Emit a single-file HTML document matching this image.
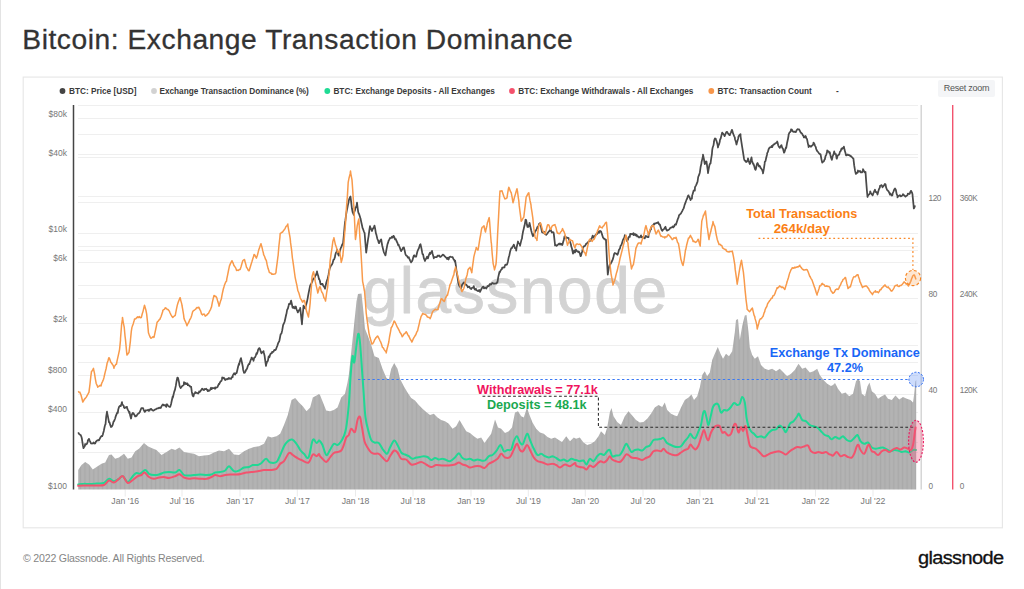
<!DOCTYPE html>
<html lang="en"><head><meta charset="utf-8"><title>Bitcoin: Exchange Transaction Dominance</title>
<style>
html,body{margin:0;padding:0;background:#fff;}
body{width:1024px;height:589px;position:relative;overflow:hidden;font-family:"Liberation Sans",Arial,sans-serif;}
.edge{position:absolute;left:0;top:0;width:1px;height:589px;background:#e3e3e3;}
h1{position:absolute;left:22.3px;top:24.1px;margin:0;font-weight:400;font-size:28.2px;line-height:30px;letter-spacing:0.55px;color:#333;white-space:nowrap;-webkit-text-stroke:0.3px #333;}
.legend span{position:absolute;top:85.8px;height:12px;line-height:12px;font-size:8.25px;font-weight:700;letter-spacing:0;color:#3a3a3a;white-space:nowrap;}
.legend i{position:absolute;top:88.4px;width:5.4px;height:5.4px;border-radius:50%;}
.reset{position:absolute;left:938px;top:80px;width:57px;height:17px;background:#f4f5f7;border-radius:2px;font-size:9px;line-height:17px;color:#555;text-align:center;letter-spacing:-0.25px;}
.foot{position:absolute;left:23px;top:551px;font-size:10.6px;line-height:14px;letter-spacing:-0.2px;color:#858585;white-space:nowrap;}
.logo{position:absolute;left:918px;top:546.6px;font-size:18.7px;line-height:22px;letter-spacing:-0.6px;transform:scaleX(1.07);transform-origin:0 0;color:#111;white-space:nowrap;-webkit-text-stroke:0.3px #111;}
svg{position:absolute;left:0;top:0;}
svg text{font-family:"Liberation Sans",Arial,sans-serif;}
</style></head><body>
<div class="edge"></div>
<h1>Bitcoin: Exchange Transaction Dominance</h1>
<div class="legend">
<span style="left:69px">BTC: Price [USD]</span>
<span style="left:159.4px">Exchange Transaction Dominance (%)</span>
<span style="left:333.4px">BTC: Exchange Deposits - All Exchanges</span>
<span style="left:518.2px">BTC: Exchange Withdrawals - All Exchanges</span>
<span style="left:717.4px">BTC: Transaction Count</span>
<span style="left:836px">-</span>
</div>
<div class="reset">Reset zoom</div>
<svg width="1024" height="589" viewBox="0 0 1024 589">
<rect x="23.2" y="77.1" width="979.2" height="450.7" fill="none" stroke="#e7e7e7" stroke-width="1.15"/>
<g stroke="#efefef" stroke-width="1" fill="none" shape-rendering="crispEdges"><path d="M78.3,105H917.5"/><path d="M78.3,118H917.5"/><path d="M78.3,134H917.5"/><path d="M78.3,154H917.5"/><path d="M78.3,157H917.5"/><path d="M78.3,196H917.5"/><path d="M78.3,202.5H917.5"/><path d="M78.3,233H917.5"/><path d="M78.3,246H917.5"/><path d="M78.3,250H917.5"/><path d="M78.3,262.5H917.5"/><path d="M78.3,285H917.5"/><path d="M78.3,298H917.5"/><path d="M78.3,323H917.5"/><path d="M78.3,345.2H917.5"/><path d="M78.3,362.5H917.5"/><path d="M78.3,375H917.5"/><path d="M78.3,394.5H917.5"/><path d="M78.3,412.5H917.5"/><path d="M78.3,442H917.5"/><path d="M78.3,452.5H917.5"/></g>
<g stroke="#ebebeb" stroke-width="1" fill="none"><path d="M125.2,489.5V496.5"/><path d="M182,489.5V496.5"/><path d="M240,489.5V496.5"/><path d="M297.3,489.5V496.5"/><path d="M355.5,489.5V496.5"/><path d="M413,489.5V496.5"/><path d="M471,489.5V496.5"/><path d="M528.3,489.5V496.5"/><path d="M585.3,489.5V496.5"/><path d="M643,489.5V496.5"/><path d="M700,489.5V496.5"/><path d="M757,489.5V496.5"/><path d="M815.5,489.5V496.5"/><path d="M873,489.5V496.5"/></g>
<text x="362.5" y="313" font-size="64" letter-spacing="1.6" fill="#d3d3d3" stroke="#d3d3d3" stroke-width="0.8" stroke-linejoin="round" font-weight="400">glassnode</text>
<defs><pattern id="stripe" x="78.3" y="0" width="4.42" height="10" patternUnits="userSpaceOnUse"><rect x="1.6" y="0" width="1.3" height="10" fill="#000" fill-opacity="0.055"/></pattern></defs><path d="M78.2,489.5L78.2,470.0L81.5,465.0L85.2,462.0L89.0,464.5L92.8,469.5L96.5,467.0L101.5,463.8L105.2,462.5L109.0,455.0L111.5,454.5L115.2,458.8L119.0,457.5L124.0,453.8L127.8,458.8L131.5,457.5L135.2,451.2L139.0,448.8L144.0,443.0L147.8,446.2L151.5,448.0L156.5,450.0L161.5,455.0L166.5,452.0L171.5,448.8L175.2,450.0L179.5,447.5L184.0,452.0L189.0,453.0L194.0,453.8L199.0,456.2L204.0,455.5L209.0,455.0L214.0,452.5L219.0,450.5L224.0,451.2L229.0,448.8L234.0,454.5L239.0,455.0L244.0,451.2L249.0,448.8L254.0,447.0L259.0,446.2L264.0,443.8L267.8,436.2L271.5,437.5L276.5,436.2L280.2,433.8L284.0,425.0L287.8,415.0L291.5,400.0L295.2,398.0L299.0,402.5L302.8,406.2L306.5,411.2L310.2,407.5L312.8,397.5L316.5,395.5L319.0,394.0L320.0,395.0L322.5,401.2L326.2,410.5L330.0,411.2L333.8,410.0L337.5,407.5L341.2,397.5L345.0,393.8L347.5,382.5L348.8,375.0L351.2,352.5L353.8,327.5L356.5,301.2L358.0,294.0L361.5,293.5L363.0,307.5L365.0,328.8L368.0,336.2L371.2,345.0L374.5,356.2L378.8,358.0L382.5,368.8L386.2,377.5L388.8,380.0L391.2,368.8L394.2,363.0L397.5,368.8L400.0,378.8L403.8,386.2L407.5,392.5L411.2,398.0L415.0,400.5L418.8,405.0L422.5,408.8L426.2,412.0L430.0,415.0L433.8,413.8L437.5,417.5L441.2,420.0L445.0,421.2L448.8,423.8L452.5,428.8L456.2,426.2L459.5,420.0L462.5,425.0L466.2,431.2L470.0,433.0L473.8,436.2L477.5,438.8L481.2,437.5L484.5,443.0L487.5,438.8L491.2,433.8L495.0,419.5L498.0,427.5L501.2,428.8L505.0,433.0L508.8,431.2L512.0,427.5L515.0,412.5L518.0,411.2L521.2,416.2L523.8,417.5L527.0,407.5L529.5,415.0L532.5,422.5L536.2,428.8L540.0,432.5L543.8,433.8L547.5,437.0L551.2,438.8L555.0,437.5L558.8,440.0L562.0,442.0L566.2,436.2L570.0,441.2L573.8,437.5L576.0,438.8L579.8,437.5L583.5,442.5L587.2,445.0L591.0,443.8L594.8,441.2L598.5,436.2L601.0,431.2L604.8,435.0L607.2,427.5L609.8,412.5L611.5,408.0L613.5,416.2L617.2,422.0L621.0,425.0L624.8,416.2L628.5,411.2L632.2,415.5L636.0,420.0L639.8,422.5L643.5,422.0L647.2,418.8L651.0,413.8L654.8,407.5L658.5,405.0L662.2,407.0L664.8,402.5L667.2,410.0L671.0,413.8L674.8,415.5L677.2,416.2L681.0,407.5L684.8,400.0L688.5,397.5L691.5,394.5L694.0,400.0L697.2,396.2L699.8,387.5L702.2,375.0L704.8,371.2L707.2,376.2L709.8,372.5L712.2,360.0L714.8,353.8L717.8,347.0L720.5,353.8L723.0,358.8L726.0,353.8L729.0,356.2L732.2,351.2L734.8,332.5L736.0,320.0L738.0,319.0L739.8,340.0L742.2,326.0L744.8,315.5L746.5,315.0L748.5,332.0L749.8,347.5L752.2,355.0L754.8,358.8L758.0,356.2L761.0,365.0L764.8,368.8L768.5,370.0L772.2,368.8L776.0,371.2L779.8,368.8L783.5,372.5L787.2,376.2L791.0,373.8L794.8,370.0L798.5,363.8L802.2,368.8L805.5,367.5L809.8,372.5L813.5,371.2L817.2,368.8L819.8,375.0L823.5,380.0L827.2,383.8L831.0,386.0L833.0,385.0L835.0,383.0L838.0,388.8L841.8,393.8L845.5,392.5L849.2,396.2L853.0,393.8L856.0,381.2L858.0,378.8L860.0,381.2L861.8,393.8L865.0,396.2L867.5,386.2L869.5,382.5L871.8,391.2L875.0,393.8L878.0,398.8L881.8,396.2L885.0,394.5L888.0,398.8L891.8,400.0L895.5,395.5L899.2,399.5L903.0,397.0L906.8,398.8L910.5,400.0L913.0,402.5L914.2,393.8L915.5,381.2L916.2,380.0L916.2,489.5Z" fill="#b3b3b3"/><path d="M78.2,489.5L78.2,470.0L81.5,465.0L85.2,462.0L89.0,464.5L92.8,469.5L96.5,467.0L101.5,463.8L105.2,462.5L109.0,455.0L111.5,454.5L115.2,458.8L119.0,457.5L124.0,453.8L127.8,458.8L131.5,457.5L135.2,451.2L139.0,448.8L144.0,443.0L147.8,446.2L151.5,448.0L156.5,450.0L161.5,455.0L166.5,452.0L171.5,448.8L175.2,450.0L179.5,447.5L184.0,452.0L189.0,453.0L194.0,453.8L199.0,456.2L204.0,455.5L209.0,455.0L214.0,452.5L219.0,450.5L224.0,451.2L229.0,448.8L234.0,454.5L239.0,455.0L244.0,451.2L249.0,448.8L254.0,447.0L259.0,446.2L264.0,443.8L267.8,436.2L271.5,437.5L276.5,436.2L280.2,433.8L284.0,425.0L287.8,415.0L291.5,400.0L295.2,398.0L299.0,402.5L302.8,406.2L306.5,411.2L310.2,407.5L312.8,397.5L316.5,395.5L319.0,394.0L320.0,395.0L322.5,401.2L326.2,410.5L330.0,411.2L333.8,410.0L337.5,407.5L341.2,397.5L345.0,393.8L347.5,382.5L348.8,375.0L351.2,352.5L353.8,327.5L356.5,301.2L358.0,294.0L361.5,293.5L363.0,307.5L365.0,328.8L368.0,336.2L371.2,345.0L374.5,356.2L378.8,358.0L382.5,368.8L386.2,377.5L388.8,380.0L391.2,368.8L394.2,363.0L397.5,368.8L400.0,378.8L403.8,386.2L407.5,392.5L411.2,398.0L415.0,400.5L418.8,405.0L422.5,408.8L426.2,412.0L430.0,415.0L433.8,413.8L437.5,417.5L441.2,420.0L445.0,421.2L448.8,423.8L452.5,428.8L456.2,426.2L459.5,420.0L462.5,425.0L466.2,431.2L470.0,433.0L473.8,436.2L477.5,438.8L481.2,437.5L484.5,443.0L487.5,438.8L491.2,433.8L495.0,419.5L498.0,427.5L501.2,428.8L505.0,433.0L508.8,431.2L512.0,427.5L515.0,412.5L518.0,411.2L521.2,416.2L523.8,417.5L527.0,407.5L529.5,415.0L532.5,422.5L536.2,428.8L540.0,432.5L543.8,433.8L547.5,437.0L551.2,438.8L555.0,437.5L558.8,440.0L562.0,442.0L566.2,436.2L570.0,441.2L573.8,437.5L576.0,438.8L579.8,437.5L583.5,442.5L587.2,445.0L591.0,443.8L594.8,441.2L598.5,436.2L601.0,431.2L604.8,435.0L607.2,427.5L609.8,412.5L611.5,408.0L613.5,416.2L617.2,422.0L621.0,425.0L624.8,416.2L628.5,411.2L632.2,415.5L636.0,420.0L639.8,422.5L643.5,422.0L647.2,418.8L651.0,413.8L654.8,407.5L658.5,405.0L662.2,407.0L664.8,402.5L667.2,410.0L671.0,413.8L674.8,415.5L677.2,416.2L681.0,407.5L684.8,400.0L688.5,397.5L691.5,394.5L694.0,400.0L697.2,396.2L699.8,387.5L702.2,375.0L704.8,371.2L707.2,376.2L709.8,372.5L712.2,360.0L714.8,353.8L717.8,347.0L720.5,353.8L723.0,358.8L726.0,353.8L729.0,356.2L732.2,351.2L734.8,332.5L736.0,320.0L738.0,319.0L739.8,340.0L742.2,326.0L744.8,315.5L746.5,315.0L748.5,332.0L749.8,347.5L752.2,355.0L754.8,358.8L758.0,356.2L761.0,365.0L764.8,368.8L768.5,370.0L772.2,368.8L776.0,371.2L779.8,368.8L783.5,372.5L787.2,376.2L791.0,373.8L794.8,370.0L798.5,363.8L802.2,368.8L805.5,367.5L809.8,372.5L813.5,371.2L817.2,368.8L819.8,375.0L823.5,380.0L827.2,383.8L831.0,386.0L833.0,385.0L835.0,383.0L838.0,388.8L841.8,393.8L845.5,392.5L849.2,396.2L853.0,393.8L856.0,381.2L858.0,378.8L860.0,381.2L861.8,393.8L865.0,396.2L867.5,386.2L869.5,382.5L871.8,391.2L875.0,393.8L878.0,398.8L881.8,396.2L885.0,394.5L888.0,398.8L891.8,400.0L895.5,395.5L899.2,399.5L903.0,397.0L906.8,398.8L910.5,400.0L913.0,402.5L914.2,393.8L915.5,381.2L916.2,380.0L916.2,489.5Z" fill="url(#stripe)"/>
<path d="M78.2,432.3 L79.0,433.8 L79.8,434.5 L80.2,434.8 L80.7,435.1 L81.5,437.0 L82.0,439.3 L82.2,440.8 L83.0,445.9 L83.5,448.2 L83.8,447.6 L84.7,446.3 L85.2,444.0 L85.5,444.9 L86.2,444.4 L87.0,443.8 L87.8,441.5 L87.8,440.5 L88.7,439.2 L89.0,438.9 L89.5,440.3 L90.2,441.7 L91.0,443.4 L91.5,443.4 L91.8,443.6 L92.7,443.5 L93.5,442.5 L94.2,443.6 L95.0,443.1 L95.2,443.4 L95.8,441.9 L96.7,440.8 L97.5,440.4 L98.2,440.1 L99.0,440.3 L99.0,440.3 L99.8,438.7 L100.7,437.0 L101.5,436.0 L102.2,436.2 L102.8,434.7 L103.0,433.8 L103.8,430.9 L104.7,426.5 L105.2,424.6 L105.5,424.3 L106.2,416.7 L107.0,411.7 L107.0,412.3 L107.8,415.9 L108.7,420.7 L109.0,422.4 L109.5,422.2 L110.2,424.9 L111.0,426.8 L111.0,427.1 L111.8,426.6 L112.7,424.9 L112.8,424.4 L113.5,421.7 L114.2,420.9 L115.0,418.8 L115.2,418.2 L115.8,416.1 L116.7,413.9 L117.5,412.2 L117.8,412.9 L118.2,409.8 L119.0,407.1 L119.8,405.9 L120.2,406.2 L120.7,406.1 L121.5,403.8 L122.0,402.1 L122.2,404.0 L123.0,405.1 L123.8,406.0 L124.0,407.6 L124.7,408.1 L125.5,407.4 L126.2,407.0 L127.0,406.8 L127.0,407.8 L127.8,409.6 L128.7,411.3 L129.4,413.3 L129.5,411.8 L130.2,415.6 L131.0,418.5 L131.1,418.3 L131.8,414.7 L132.7,413.0 L132.8,413.9 L133.4,413.2 L134.2,414.5 L135.1,416.4 L135.2,415.5 L135.8,416.4 L136.7,415.7 L137.4,414.3 L138.2,413.6 L139.0,413.2 L139.1,412.8 L139.8,412.1 L140.7,409.8 L141.4,408.1 L142.0,408.1 L142.2,408.1 L143.1,408.2 L143.8,410.1 L144.7,411.9 L145.2,411.6 L145.4,410.3 L146.2,410.4 L147.1,410.3 L147.8,410.0 L148.7,410.9 L149.0,409.7 L149.4,410.7 L150.2,409.3 L151.1,408.9 L151.8,409.8 L152.7,410.5 L153.4,410.6 L154.0,410.3 L154.2,409.9 L155.1,409.4 L155.8,409.4 L156.7,408.6 L157.4,408.4 L158.2,408.4 L159.0,407.8 L159.1,408.2 L159.8,407.6 L160.7,408.0 L161.4,406.7 L162.2,405.2 L162.8,404.4 L163.1,404.5 L163.8,405.4 L164.7,405.1 L165.4,405.5 L166.2,406.9 L166.5,404.4 L167.1,404.3 L167.8,405.5 L168.7,406.4 L169.4,406.9 L170.2,406.8 L171.1,403.9 L171.8,400.5 L172.7,396.5 L172.8,397.9 L173.4,395.3 L174.2,391.9 L175.1,389.4 L175.2,388.6 L175.8,385.9 L176.7,380.4 L177.4,377.5 L177.8,377.5 L178.2,378.8 L179.1,382.6 L179.5,385.5 L179.8,386.3 L180.7,388.0 L181.4,386.9 L181.5,387.0 L182.2,385.9 L183.1,385.4 L183.8,384.9 L184.0,382.2 L184.7,383.9 L185.4,383.0 L186.2,384.2 L187.1,383.3 L187.8,384.1 L187.8,385.2 L188.7,385.2 L189.4,385.7 L190.2,386.6 L191.0,386.7 L191.1,386.7 L191.8,391.7 L192.7,395.9 L192.8,395.5 L193.4,396.4 L194.2,393.5 L195.1,393.1 L195.2,392.2 L195.8,392.4 L196.7,393.0 L197.4,393.1 L198.2,393.5 L199.0,392.2 L199.1,391.5 L199.8,392.0 L200.7,390.7 L201.4,389.7 L202.2,388.6 L203.1,389.7 L203.8,389.5 L204.0,390.1 L204.7,389.0 L205.4,389.2 L206.2,388.7 L207.1,389.9 L207.8,391.2 L207.8,389.9 L208.7,390.8 L209.4,390.7 L210.2,389.7 L211.1,387.7 L211.5,389.2 L211.8,388.8 L212.7,388.0 L213.4,388.2 L214.2,388.2 L215.1,388.8 L215.2,387.4 L215.8,387.7 L216.7,387.6 L217.4,387.1 L218.2,385.3 L219.0,383.6 L219.1,384.3 L219.8,382.8 L220.7,381.3 L221.4,380.9 L222.0,379.2 L222.2,377.4 L223.1,378.1 L223.8,377.6 L224.7,379.4 L225.2,380.1 L225.4,379.4 L226.2,379.1 L227.1,379.3 L227.8,378.6 L228.7,378.9 L229.0,378.0 L229.4,378.4 L230.2,378.7 L231.1,378.8 L231.8,377.1 L232.7,377.2 L232.8,375.3 L233.4,374.5 L234.2,373.2 L235.1,374.5 L235.8,373.2 L236.5,373.2 L236.7,372.7 L237.4,369.7 L238.2,366.2 L239.0,363.6 L239.1,364.8 L239.8,361.5 L240.7,358.9 L241.0,358.1 L241.4,360.1 L242.2,363.8 L242.8,366.7 L243.1,369.4 L243.8,372.0 L244.0,372.8 L244.7,372.7 L245.4,371.6 L246.2,369.6 L246.5,369.5 L247.1,368.4 L247.8,366.1 L248.7,364.1 L249.0,363.8 L249.4,364.0 L250.2,361.5 L251.1,359.0 L251.5,357.8 L251.8,357.6 L252.7,359.3 L253.4,359.9 L253.5,360.9 L254.2,357.8 L255.1,357.3 L255.8,355.5 L256.5,353.2 L256.6,354.3 L257.4,352.6 L258.2,349.5 L259.1,348.1 L259.5,348.2 L259.9,348.8 L260.6,351.2 L261.4,353.1 L261.5,353.3 L262.2,352.2 L263.1,351.9 L263.5,351.1 L263.9,353.0 L264.6,355.8 L265.4,361.8 L266.0,366.0 L266.2,364.6 L267.1,361.7 L267.9,360.9 L268.6,356.6 L269.0,356.3 L269.4,357.3 L270.2,354.4 L271.1,353.4 L271.9,353.2 L272.0,352.0 L272.6,351.8 L273.4,351.8 L274.2,350.2 L275.1,349.9 L275.2,350.1 L275.9,349.5 L276.6,347.5 L277.4,345.6 L277.8,344.3 L278.2,342.9 L279.1,341.6 L279.5,340.2 L279.9,338.1 L280.6,334.4 L281.4,333.5 L281.5,333.4 L282.2,330.4 L283.1,325.1 L283.9,323.3 L284.0,323.3 L284.6,321.8 L285.4,318.2 L286.2,314.5 L286.5,313.6 L287.1,309.9 L287.9,308.5 L288.6,305.8 L289.0,303.9 L289.4,304.3 L290.2,304.0 L291.0,300.8 L291.1,300.6 L291.9,304.3 L292.6,307.7 L292.8,307.8 L293.4,306.8 L294.2,308.4 L295.1,308.2 L295.2,306.5 L295.9,306.6 L296.6,309.6 L297.4,311.1 L297.8,312.4 L298.2,311.8 L299.1,310.0 L299.9,309.7 L300.2,307.8 L300.6,311.4 L301.4,318.9 L302.0,324.3 L302.2,320.6 L303.1,310.8 L303.5,305.7 L303.9,306.4 L304.6,307.8 L305.2,308.5 L305.4,307.2 L306.2,304.6 L307.1,301.1 L307.8,297.6 L307.9,296.8 L308.6,293.2 L309.4,289.2 L310.2,285.5 L311.1,283.9 L311.9,282.4 L312.6,280.7 L312.8,279.6 L313.4,278.9 L314.2,278.2 L315.1,276.6 L315.2,275.7 L315.9,275.1 L316.6,273.0 L317.0,271.4 L317.4,273.6 L318.2,275.8 L319.0,279.3 L319.1,278.7 L319.9,280.7 L320.0,281.8 L320.6,284.3 L321.4,284.3 L322.2,283.8 L322.5,283.9 L323.1,285.4 L323.9,286.6 L324.6,287.4 L325.0,288.7 L325.4,286.8 L326.2,283.1 L327.1,280.0 L327.5,279.1 L327.9,277.6 L328.6,274.4 L329.4,269.7 L330.0,267.4 L330.2,267.5 L331.1,265.4 L331.9,264.6 L332.5,263.3 L332.6,263.1 L333.4,260.0 L334.2,259.3 L335.0,256.9 L335.1,255.7 L335.9,252.8 L336.6,252.0 L337.0,249.6 L337.4,251.4 L338.2,254.5 L338.8,255.6 L339.1,253.4 L339.9,251.0 L340.6,248.5 L341.2,247.2 L341.4,246.9 L342.2,244.6 L343.0,243.4 L343.1,242.8 L343.9,234.6 L344.6,226.3 L345.0,222.5 L345.4,220.2 L346.2,214.2 L347.0,209.3 L347.1,209.4 L347.9,205.1 L348.6,202.0 L348.8,200.5 L349.4,198.5 L350.2,196.8 L350.5,196.5 L351.1,201.4 L351.9,208.5 L352.0,208.9 L352.6,212.2 L353.4,213.9 L353.8,214.9 L354.2,212.3 L355.1,209.9 L355.5,207.3 L355.9,207.4 L356.6,205.5 L357.0,202.7 L357.4,206.1 L358.2,212.0 L358.8,213.8 L359.1,213.9 L359.9,216.4 L360.5,218.7 L360.6,218.9 L361.4,222.7 L362.2,226.3 L362.5,227.9 L363.1,229.2 L363.9,231.5 L364.5,232.8 L364.6,233.0 L365.4,243.0 L366.2,252.7 L367.1,246.2 L367.9,240.5 L368.0,239.6 L368.6,236.1 L369.4,229.9 L370.0,226.1 L370.2,227.2 L371.1,229.0 L371.9,230.5 L372.0,231.0 L372.6,229.1 L373.4,228.1 L374.2,226.4 L374.5,225.6 L375.1,228.4 L375.9,233.4 L376.2,234.1 L376.6,235.6 L377.4,239.0 L378.2,240.7 L378.8,243.1 L379.1,243.1 L379.9,241.0 L380.6,240.2 L381.2,239.4 L381.4,241.0 L382.2,245.5 L383.1,249.2 L383.8,252.0 L383.9,252.3 L384.6,253.6 L385.4,255.4 L385.5,255.4 L386.2,250.9 L387.1,246.1 L387.5,244.1 L387.9,243.2 L388.6,240.8 L389.4,239.4 L390.0,238.0 L390.2,238.2 L391.1,237.9 L391.9,236.7 L392.6,237.7 L393.4,235.9 L393.8,236.1 L394.2,236.9 L395.1,239.4 L395.9,239.1 L396.2,240.1 L396.6,241.3 L397.4,242.7 L398.2,245.1 L398.8,244.9 L399.1,246.0 L399.9,247.8 L400.6,249.9 L401.2,251.1 L401.4,250.2 L402.2,249.6 L403.1,247.7 L403.8,248.1 L403.9,247.4 L404.6,250.2 L405.4,254.1 L406.2,255.6 L407.1,256.1 L407.9,257.6 L408.6,257.9 L408.8,257.2 L409.4,258.8 L410.2,260.6 L411.1,262.4 L411.2,261.8 L411.9,261.5 L412.6,259.9 L413.4,256.8 L413.8,255.7 L414.2,255.3 L415.1,256.7 L415.9,256.1 L416.2,256.7 L416.6,254.7 L417.4,251.5 L418.2,249.5 L418.8,248.6 L419.1,247.4 L419.9,244.9 L420.5,244.2 L420.6,244.6 L421.4,248.2 L422.2,252.7 L422.5,254.0 L423.1,254.5 L423.9,258.4 L424.6,259.9 L425.0,261.0 L425.4,259.6 L426.2,258.7 L427.1,256.7 L427.5,258.2 L427.9,258.4 L428.6,255.9 L429.4,253.9 L430.0,252.7 L430.2,254.1 L431.1,252.4 L431.9,251.3 L432.0,250.9 L432.6,253.8 L433.4,256.5 L433.8,258.3 L434.2,257.1 L435.1,257.2 L435.9,257.2 L436.6,257.1 L437.4,256.3 L437.5,255.6 L438.2,255.9 L439.1,255.5 L439.9,256.8 L440.6,256.8 L441.4,256.1 L442.2,255.4 L442.5,254.9 L443.1,254.7 L443.9,255.3 L444.6,256.2 L445.4,257.0 L446.2,257.6 L447.1,259.1 L447.5,257.9 L447.9,257.7 L448.6,259.5 L449.4,257.0 L450.2,256.7 L451.1,257.0 L451.9,257.1 L452.5,257.3 L452.6,257.2 L453.4,258.9 L454.2,260.1 L455.0,261.9 L455.1,260.5 L455.9,265.9 L456.6,272.0 L457.0,273.9 L457.4,276.3 L458.2,282.0 L458.8,284.4 L459.1,285.5 L459.9,286.7 L460.6,287.4 L461.2,288.1 L461.4,287.3 L462.2,284.6 L463.1,283.4 L463.8,282.6 L463.9,282.3 L464.6,283.2 L465.4,284.6 L466.2,284.6 L467.1,285.7 L467.9,287.3 L468.6,286.5 L468.8,286.5 L469.4,286.8 L470.2,288.4 L471.1,288.7 L471.2,289.1 L471.9,287.9 L472.6,287.7 L473.4,287.6 L473.8,286.2 L474.2,288.4 L475.1,289.7 L475.9,288.7 L476.2,290.1 L476.6,290.1 L477.4,290.7 L478.2,291.1 L479.1,290.0 L479.9,290.6 L480.0,292.0 L480.6,290.6 L481.4,289.0 L482.2,287.6 L483.1,286.6 L483.8,287.0 L483.9,288.4 L484.6,288.0 L485.4,287.5 L486.2,288.6 L487.1,287.0 L487.5,286.0 L487.9,286.4 L488.6,286.2 L489.4,284.8 L490.0,283.9 L490.2,284.5 L491.1,284.5 L491.9,283.1 L492.5,283.1 L492.6,283.0 L493.4,283.7 L494.2,283.7 L495.0,283.6 L495.1,283.4 L495.9,283.5 L496.6,283.4 L497.4,281.7 L497.5,282.1 L498.2,277.4 L499.1,273.5 L499.5,271.8 L499.9,272.3 L500.6,270.5 L501.4,269.5 L502.0,269.0 L502.2,267.6 L503.1,267.7 L503.9,267.1 L504.5,267.4 L504.6,266.5 L505.4,264.7 L506.2,264.8 L507.0,264.7 L507.1,264.2 L507.9,261.7 L508.6,257.9 L508.8,257.0 L509.4,255.2 L510.2,251.2 L511.1,248.4 L511.2,248.2 L511.9,248.2 L512.6,246.7 L513.5,245.7 L513.8,244.6 L514.2,245.8 L515.0,248.2 L515.9,248.3 L516.2,250.6 L516.6,247.5 L517.5,243.8 L518.0,241.5 L518.2,242.7 L519.0,243.4 L519.9,244.1 L520.0,245.8 L520.6,243.4 L521.5,239.6 L522.0,238.5 L522.2,236.3 L523.0,231.8 L523.8,228.6 L523.9,227.9 L524.6,225.3 L525.5,220.1 L525.5,219.7 L526.2,220.1 L527.0,225.1 L527.5,226.9 L527.9,227.0 L528.6,226.4 L529.5,223.5 L529.5,222.8 L530.2,226.0 L531.0,229.5 L531.2,230.4 L531.9,233.0 L532.6,235.3 L533.0,236.3 L533.5,235.0 L534.2,233.8 L535.0,231.9 L535.0,231.4 L535.9,230.6 L536.6,229.0 L537.5,226.8 L537.5,228.2 L538.2,226.7 L539.0,224.0 L539.9,223.4 L540.0,223.1 L540.6,224.5 L541.5,229.6 L542.0,231.9 L542.2,232.4 L543.0,232.6 L543.8,232.7 L543.9,231.6 L544.6,233.6 L545.5,234.3 L546.2,234.8 L547.0,234.0 L547.9,232.7 L548.6,232.0 L548.8,231.3 L549.5,231.2 L550.2,229.7 L551.0,230.1 L551.2,231.2 L551.9,232.5 L552.6,232.2 L553.5,232.4 L553.8,233.7 L554.2,237.3 L555.0,244.5 L555.0,245.4 L555.9,245.0 L556.6,245.9 L557.5,245.1 L557.5,245.2 L558.2,244.3 L559.0,243.6 L559.9,243.5 L560.0,244.7 L560.6,243.8 L561.5,243.8 L562.2,245.1 L562.5,244.4 L563.0,242.6 L563.9,239.5 L564.5,236.3 L564.6,236.8 L565.5,236.3 L566.2,238.1 L567.0,237.7 L567.0,237.7 L567.9,237.8 L568.6,238.0 L568.8,239.0 L569.5,240.7 L570.2,242.3 L571.0,244.8 L571.2,246.3 L571.9,248.2 L572.6,251.6 L573.0,253.7 L573.5,252.7 L574.2,250.4 L575.0,251.6 L575.0,252.4 L575.9,249.7 L576.0,249.8 L576.6,250.6 L577.5,251.6 L578.2,252.0 L578.5,251.5 L579.0,251.7 L579.9,253.7 L580.6,256.2 L581.0,255.8 L581.5,253.7 L582.2,251.4 L583.0,247.4 L583.5,246.5 L583.9,246.3 L584.6,246.3 L585.5,245.0 L586.2,243.8 L587.0,243.2 L587.2,243.3 L587.9,242.3 L588.6,241.5 L589.5,241.2 L590.2,240.8 L591.0,240.5 L591.0,239.0 L591.9,238.0 L592.6,235.7 L593.5,237.6 L594.2,236.3 L594.8,236.1 L595.0,236.2 L595.9,234.3 L596.6,234.3 L597.5,233.5 L598.2,231.4 L598.5,232.0 L599.0,232.9 L599.9,230.8 L600.6,231.5 L601.0,231.4 L601.5,232.8 L602.2,234.9 L603.0,237.6 L603.5,238.0 L603.9,238.7 L604.6,238.8 L605.5,240.1 L606.0,239.7 L606.2,244.6 L607.0,261.4 L607.8,274.7 L607.9,273.7 L608.6,269.1 L609.5,265.4 L609.8,264.7 L610.2,264.5 L611.0,263.0 L611.9,261.5 L612.2,260.3 L612.6,259.9 L613.5,256.7 L614.2,253.7 L614.8,253.0 L615.0,253.1 L615.9,253.5 L616.6,254.0 L617.2,254.6 L617.5,254.8 L618.2,252.9 L619.0,249.8 L619.8,248.7 L619.9,248.6 L620.6,245.8 L621.5,244.7 L622.2,242.4 L623.0,239.8 L623.9,238.1 L624.6,236.5 L624.8,235.1 L625.5,236.8 L626.2,237.5 L627.0,241.1 L627.2,240.4 L627.9,239.9 L628.6,237.3 L629.5,236.2 L629.8,236.9 L630.2,233.9 L631.0,233.8 L631.9,234.3 L632.6,234.0 L633.5,233.2 L633.5,235.1 L634.2,235.0 L635.0,233.9 L635.9,235.5 L636.6,234.7 L637.2,236.5 L637.5,236.0 L638.2,236.4 L639.0,237.5 L639.9,237.3 L640.6,236.2 L641.0,235.4 L641.5,237.1 L642.2,237.7 L643.0,237.0 L643.9,237.9 L644.6,238.1 L644.8,238.3 L645.5,236.0 L646.2,236.1 L647.0,237.0 L647.9,237.1 L648.5,237.2 L648.6,234.4 L649.5,232.4 L650.2,230.2 L651.0,229.4 L651.0,227.7 L651.9,226.3 L652.6,225.4 L653.5,225.1 L654.0,223.7 L654.2,224.5 L655.0,223.3 L655.9,223.4 L656.6,222.8 L657.2,223.0 L657.5,222.6 L658.2,222.2 L659.0,224.2 L659.8,224.8 L659.9,224.5 L660.6,226.9 L661.5,229.8 L662.2,230.9 L663.0,229.8 L663.9,229.1 L664.6,228.2 L664.8,227.5 L665.5,226.8 L666.2,229.4 L667.0,230.6 L667.2,230.7 L667.9,230.1 L668.6,229.9 L669.5,229.1 L670.2,228.0 L670.5,227.8 L671.0,227.6 L671.9,227.3 L672.6,226.5 L673.5,227.3 L673.5,226.4 L674.2,226.3 L675.0,224.4 L675.9,223.9 L676.0,224.7 L676.6,222.7 L677.5,219.9 L678.2,218.0 L678.5,217.6 L679.0,215.4 L679.9,214.4 L680.6,213.9 L681.0,213.2 L681.5,212.4 L682.2,211.1 L683.0,209.4 L683.5,208.6 L683.9,207.6 L684.6,204.9 L685.5,202.7 L686.0,201.1 L686.2,200.4 L687.0,198.9 L687.9,196.1 L688.5,195.3 L688.6,196.0 L689.5,197.1 L690.2,199.0 L690.5,200.1 L691.0,198.8 L691.9,198.6 L692.2,195.1 L692.6,194.3 L693.5,190.9 L694.2,190.1 L694.8,190.6 L695.0,187.1 L695.9,185.6 L696.6,184.2 L697.2,182.4 L697.5,182.0 L698.2,177.0 L699.0,175.2 L699.8,172.7 L699.9,172.1 L700.6,167.0 L701.5,163.1 L701.5,162.3 L702.2,159.4 L703.0,155.9 L703.0,154.6 L703.9,159.0 L704.6,163.0 L704.8,164.1 L705.5,162.3 L706.2,161.4 L706.5,161.6 L707.0,165.2 L707.9,171.3 L708.0,173.2 L708.6,169.3 L709.5,164.9 L710.2,163.4 L710.5,163.6 L711.0,159.8 L711.9,154.1 L712.2,150.2 L712.6,147.8 L713.5,145.3 L714.0,142.0 L714.2,140.3 L715.0,138.4 L715.9,139.0 L716.0,139.5 L716.6,141.2 L717.5,144.4 L718.0,147.5 L718.2,146.1 L719.0,144.4 L719.8,141.5 L719.9,140.2 L720.6,138.7 L721.5,135.2 L722.2,132.6 L723.0,133.7 L723.9,134.7 L724.6,136.2 L724.8,135.8 L725.5,134.0 L726.2,132.3 L727.0,131.8 L727.2,132.1 L727.9,133.2 L728.6,134.1 L729.5,135.1 L729.8,135.2 L730.2,133.8 L731.0,132.3 L731.9,129.9 L732.2,130.2 L732.6,132.1 L733.5,134.5 L734.2,136.3 L734.8,137.4 L735.0,139.2 L735.9,141.8 L736.5,144.5 L736.6,144.0 L737.5,140.7 L738.2,138.4 L738.5,136.4 L739.0,135.7 L739.9,134.7 L740.5,134.1 L740.6,136.6 L741.5,142.7 L742.2,147.1 L743.0,152.2 L743.9,157.8 L744.0,158.7 L744.6,160.6 L745.5,160.9 L746.0,161.9 L746.2,162.1 L747.0,161.6 L747.9,159.6 L748.0,158.4 L748.6,160.6 L749.5,163.2 L749.8,164.0 L750.2,163.5 L751.0,159.3 L751.5,157.4 L751.9,160.2 L752.6,162.7 L753.5,164.7 L753.5,163.8 L754.2,166.0 L755.0,169.0 L755.5,169.9 L755.9,169.0 L756.6,165.5 L757.2,163.3 L757.5,163.0 L758.2,164.4 L759.0,166.4 L759.8,165.8 L759.9,166.1 L760.6,167.9 L761.5,168.9 L762.2,170.2 L763.0,172.4 L763.0,173.4 L763.9,168.7 L764.6,163.9 L764.8,161.8 L765.5,161.1 L766.2,157.8 L767.0,154.7 L767.2,153.1 L767.9,151.9 L768.6,149.3 L769.5,147.8 L769.8,147.6 L770.2,147.3 L771.0,147.1 L771.9,145.9 L772.2,147.1 L772.6,146.0 L773.5,144.3 L774.2,144.4 L774.8,144.0 L775.0,143.5 L775.9,143.0 L776.6,142.9 L777.2,141.5 L777.5,142.3 L778.2,145.3 L779.0,147.0 L779.8,147.8 L779.9,147.6 L780.6,146.3 L781.5,145.1 L781.5,145.5 L782.2,147.8 L783.0,148.8 L783.9,152.4 L784.0,152.7 L784.6,151.7 L785.5,148.7 L786.0,147.4 L786.2,148.0 L787.0,143.3 L787.9,139.3 L788.5,136.0 L788.6,134.6 L789.5,132.5 L790.2,132.1 L791.0,130.3 L791.0,129.4 L791.9,129.6 L792.6,131.5 L793.5,131.6 L793.5,131.8 L794.2,131.6 L795.0,131.9 L795.9,132.1 L796.0,131.7 L796.6,130.3 L797.5,129.2 L798.2,129.4 L798.5,129.4 L799.0,129.3 L799.9,130.9 L800.6,132.4 L801.0,132.8 L801.5,133.2 L802.2,133.9 L803.0,135.7 L803.5,135.9 L803.9,137.4 L804.6,137.4 L805.5,135.9 L806.0,136.9 L806.2,138.1 L807.0,139.0 L807.9,143.6 L808.5,146.0 L808.6,147.1 L809.5,145.6 L810.2,146.3 L811.0,146.8 L811.0,146.6 L811.9,145.7 L812.6,145.5 L813.5,143.2 L813.5,142.5 L814.2,143.6 L815.0,145.6 L815.9,147.4 L816.0,148.5 L816.6,150.0 L817.5,151.5 L818.0,152.0 L818.2,152.1 L819.0,153.4 L819.9,154.2 L820.5,154.2 L820.6,154.5 L821.5,159.6 L822.2,162.6 L823.0,161.8 L823.9,161.2 L824.6,159.3 L824.8,159.5 L825.5,156.2 L826.2,154.8 L827.0,152.3 L827.2,150.3 L827.9,151.6 L828.6,151.3 L829.5,153.0 L829.8,152.3 L830.2,154.2 L831.0,157.5 L831.8,159.8 L831.9,159.7 L832.6,156.5 L833.5,154.4 L834.2,151.4 L835.0,153.9 L835.9,154.1 L836.6,158.4 L836.8,158.7 L837.5,156.0 L838.2,155.2 L839.0,154.2 L839.2,154.6 L839.9,151.9 L840.6,151.2 L841.5,148.6 L841.8,149.4 L842.2,148.2 L843.0,148.1 L843.8,147.2 L843.9,146.6 L844.6,150.1 L845.5,153.0 L846.0,155.3 L846.2,155.4 L847.0,155.1 L847.9,154.5 L848.5,155.2 L848.6,155.2 L849.5,155.1 L850.2,156.1 L851.0,156.4 L851.0,156.2 L851.9,157.2 L852.6,157.8 L853.5,158.8 L853.5,159.4 L854.2,165.4 L855.0,170.4 L855.5,172.6 L855.9,173.9 L856.6,172.9 L857.5,172.8 L858.0,170.5 L858.2,170.8 L859.0,171.5 L859.9,171.0 L860.5,171.5 L860.6,172.4 L861.5,172.4 L862.2,172.3 L863.0,170.2 L863.0,169.1 L863.9,170.8 L864.6,172.3 L865.5,172.9 L865.5,171.8 L866.2,181.6 L867.0,191.6 L867.5,197.0 L867.9,195.7 L868.6,194.8 L869.5,194.0 L870.0,192.4 L870.2,191.4 L871.0,193.1 L871.9,194.5 L872.5,195.1 L872.6,195.4 L873.5,193.0 L874.2,191.4 L875.0,189.7 L875.0,190.3 L875.9,192.2 L876.6,192.1 L877.5,194.2 L877.5,194.5 L878.2,191.8 L879.0,189.1 L879.9,187.4 L880.0,185.8 L880.6,185.7 L881.5,185.1 L882.2,186.2 L882.5,187.3 L883.0,186.6 L883.9,185.7 L884.6,184.3 L885.0,184.0 L885.5,184.2 L886.2,187.8 L887.0,189.8 L887.5,190.4 L887.9,190.6 L888.6,191.3 L889.5,193.3 L890.0,194.6 L890.2,193.3 L891.0,194.7 L891.9,195.5 L892.5,195.0 L892.6,193.5 L893.5,191.5 L894.2,189.6 L895.0,188.5 L895.0,188.5 L895.9,190.0 L896.6,193.9 L897.5,195.9 L897.5,197.4 L898.2,196.2 L899.0,195.8 L899.9,195.2 L900.0,195.3 L900.6,196.3 L901.5,196.1 L902.2,195.6 L902.5,195.2 L903.0,194.2 L903.9,195.1 L904.6,195.9 L905.0,195.9 L905.5,196.7 L906.2,196.0 L907.0,195.5 L907.5,195.1 L907.9,193.6 L908.6,193.9 L909.5,194.0 L910.0,193.0 L910.2,192.1 L911.0,190.8 L911.9,192.4 L912.5,194.2 L912.6,195.8 L913.5,204.7 L913.8,208.5 L914.2,208.0 L915.0,206.0 L915.5,206.0" fill="none" stroke="#4a4a4a" stroke-width="1.75" stroke-linejoin="round"/>
<path d="M78.2,391.3 L79.2,392.4 L80.0,392.3 L80.2,392.9 L81.0,395.0 L81.8,398.0 L82.8,402.0 L83.7,400.5 L84.5,399.1 L85.5,398.1 L86.3,397.1 L86.5,396.6 L87.2,395.5 L88.2,393.6 L89.0,392.2 L89.0,391.8 L90.0,384.2 L90.8,376.7 L91.5,371.3 L91.8,371.3 L92.7,369.9 L93.5,368.4 L93.5,368.9 L94.5,373.3 L95.3,378.6 L96.0,382.4 L96.2,383.5 L97.2,385.6 L97.8,387.2 L98.0,386.4 L99.0,386.3 L99.8,385.4 L100.8,385.1 L101.0,386.1 L101.7,383.3 L102.5,381.6 L103.5,379.2 L104.0,377.4 L104.3,376.0 L105.2,372.1 L106.2,368.2 L107.0,364.0 L107.0,363.5 L108.0,360.7 L108.8,357.8 L109.0,357.7 L109.8,359.2 L110.7,362.0 L111.5,363.0 L111.5,363.0 L112.5,364.5 L113.3,365.6 L114.0,368.2 L114.2,366.6 L115.2,365.4 L116.0,364.0 L116.5,364.2 L117.0,361.1 L117.8,357.7 L118.8,353.2 L119.5,349.8 L119.7,348.1 L120.5,340.1 L120.5,338.8 L121.5,326.0 L121.5,325.5 L122.3,319.9 L122.5,317.4 L123.2,322.1 L124.0,326.1 L124.2,327.0 L125.0,335.8 L125.5,339.9 L126.0,345.2 L126.8,353.9 L127.0,355.1 L127.8,354.0 L128.7,352.8 L129.0,352.4 L129.6,347.5 L130.4,341.1 L130.5,339.5 L131.3,331.4 L132.0,327.0 L132.2,326.6 L133.2,323.9 L134.1,320.7 L134.5,319.1 L134.9,319.0 L135.8,318.7 L136.8,317.6 L137.7,316.7 L137.8,317.5 L138.6,317.4 L139.4,316.6 L140.3,317.7 L141.2,317.6 L141.5,316.9 L142.2,314.0 L143.1,311.1 L143.9,307.6 L144.5,305.3 L144.8,306.3 L145.8,309.7 L146.5,313.1 L146.7,314.4 L147.6,322.8 L148.4,332.4 L148.5,333.0 L149.3,335.1 L150.2,337.2 L151.0,338.3 L151.2,338.0 L152.1,337.6 L152.9,336.7 L153.8,336.9 L154.0,337.4 L154.8,333.7 L155.7,329.3 L156.6,325.0 L157.0,322.6 L157.4,321.9 L158.3,321.0 L159.2,319.8 L160.2,318.9 L160.2,318.3 L161.1,316.5 L161.9,314.0 L162.8,311.2 L162.8,310.3 L163.8,309.6 L164.7,309.1 L165.2,307.8 L165.6,307.9 L166.4,308.4 L167.3,309.5 L168.2,309.6 L169.0,310.7 L169.2,310.8 L170.1,313.0 L170.9,314.6 L171.8,316.2 L172.8,317.4 L173.7,316.5 L174.6,315.8 L175.2,315.6 L175.4,314.6 L176.3,309.8 L177.2,305.6 L177.8,303.5 L178.2,302.3 L179.1,300.0 L179.9,297.9 L180.2,297.7 L180.8,300.6 L181.8,304.1 L182.0,305.5 L182.7,309.4 L183.6,314.8 L184.0,318.3 L184.4,319.6 L185.3,321.3 L186.2,323.6 L187.0,325.7 L187.2,325.0 L188.1,323.3 L188.9,322.0 L189.8,319.4 L190.2,319.1 L190.8,318.0 L191.7,315.4 L192.6,311.9 L192.8,311.7 L193.4,310.6 L194.3,310.2 L195.2,309.5 L196.2,308.6 L196.5,307.8 L197.1,307.5 L197.9,307.9 L198.8,307.2 L199.0,307.6 L199.8,309.4 L200.7,311.1 L201.5,314.0 L201.6,313.6 L202.4,315.0 L203.3,314.2 L204.2,314.1 L205.2,315.8 L205.2,316.2 L206.1,315.5 L206.9,315.0 L207.8,313.8 L208.5,313.6 L208.8,312.8 L209.7,310.9 L210.6,309.3 L211.4,307.0 L211.5,307.0 L212.3,302.7 L213.2,298.6 L214.0,295.4 L214.2,295.4 L215.1,296.5 L215.9,296.3 L216.5,297.5 L216.8,297.9 L217.8,301.6 L218.7,304.2 L219.0,306.2 L219.6,304.2 L220.4,301.5 L221.3,299.0 L221.5,298.0 L222.2,294.2 L223.2,289.5 L224.0,286.7 L224.1,286.3 L224.9,284.0 L225.8,281.9 L226.5,281.3 L226.8,278.9 L227.7,274.7 L228.6,270.0 L229.0,268.1 L229.4,266.1 L230.3,263.9 L231.2,262.1 L232.0,260.7 L232.2,261.5 L233.1,263.0 L233.9,265.5 L234.0,265.5 L234.8,266.6 L235.8,268.1 L236.5,270.4 L236.7,270.5 L237.6,270.1 L238.4,270.4 L239.3,269.4 L240.2,269.4 L241.2,266.2 L242.1,263.0 L242.8,260.7 L242.9,260.5 L243.8,259.9 L244.5,259.5 L244.8,261.1 L245.7,263.9 L246.5,267.4 L246.6,267.4 L247.4,268.5 L248.3,270.3 L249.0,270.8 L249.2,270.6 L250.2,267.2 L251.1,264.2 L251.5,263.0 L251.9,261.8 L252.8,258.8 L253.8,255.8 L254.0,254.5 L254.7,254.9 L255.6,256.7 L256.4,258.1 L256.5,257.7 L257.4,255.3 L258.2,252.1 L259.0,248.9 L259.1,248.9 L260.1,246.1 L260.9,243.7 L261.0,244.1 L261.9,246.9 L262.8,250.9 L263.5,253.5 L263.6,254.6 L264.6,256.5 L265.4,259.0 L266.4,260.7 L266.5,261.3 L267.2,264.9 L268.1,268.6 L269.0,271.1 L269.1,271.9 L269.9,272.8 L270.9,273.0 L271.8,274.2 L272.6,274.0 L272.8,274.1 L273.6,274.2 L274.4,274.1 L275.4,273.8 L276.0,272.5 L276.2,269.8 L277.1,263.2 L278.0,256.0 L278.1,255.8 L278.9,246.0 L279.9,237.3 L280.2,233.4 L280.8,233.2 L281.6,232.5 L282.6,232.0 L282.8,231.7 L283.4,230.8 L284.4,229.5 L285.2,228.3 L286.1,226.3 L287.1,225.6 L287.8,224.0 L287.9,225.6 L288.9,231.4 L289.8,236.2 L290.2,238.6 L290.6,242.9 L291.6,250.2 L292.4,258.0 L292.8,260.4 L293.4,264.7 L294.2,270.5 L295.1,277.0 L295.2,277.6 L296.1,281.8 L296.9,285.4 L297.8,290.3 L297.9,290.8 L298.8,292.8 L299.6,295.5 L300.2,297.7 L300.6,298.6 L301.4,299.9 L302.4,301.8 L302.8,302.1 L303.2,301.1 L304.1,300.3 L304.5,300.6 L305.1,303.0 L305.9,308.0 L306.5,311.1 L306.9,312.1 L307.8,315.1 L308.5,317.0 L308.6,315.7 L309.6,308.3 L310.2,302.6 L310.4,299.3 L311.4,286.6 L312.0,277.2 L312.2,275.9 L313.1,272.8 L313.5,271.7 L314.1,274.3 L314.9,279.5 L315.2,281.2 L315.9,284.3 L316.8,288.1 L317.6,291.9 L317.8,293.0 L318.6,290.3 L319.4,287.3 L319.5,287.1 L320.0,286.7 L320.4,287.4 L321.2,290.4 L322.1,292.7 L322.5,292.9 L323.1,294.5 L323.9,297.7 L324.9,298.9 L325.5,301.1 L325.8,299.2 L326.6,293.2 L327.5,287.9 L327.6,287.6 L328.4,279.0 L329.4,271.2 L329.5,270.1 L330.0,262.9 L330.2,260.4 L331.1,253.9 L332.1,247.2 L332.5,244.1 L332.9,241.1 L333.8,238.2 L333.9,237.7 L334.8,241.8 L335.5,245.1 L335.6,245.1 L336.6,248.0 L337.4,251.9 L337.5,252.6 L338.4,251.7 L339.2,251.1 L339.5,250.0 L340.1,254.5 L341.1,260.8 L341.2,262.4 L341.9,260.1 L342.9,255.5 L343.0,253.9 L343.8,245.3 L344.6,233.9 L345.0,229.9 L345.6,222.0 L346.4,208.6 L347.0,200.8 L347.4,196.1 L348.2,182.3 L349.1,177.7 L350.1,173.9 L350.5,171.0 L350.9,174.1 L351.9,179.3 L352.0,179.9 L352.8,191.4 L353.6,204.3 L353.8,205.3 L354.6,221.5 L355.4,238.7 L355.5,239.5 L356.4,233.1 L357.0,227.6 L357.2,225.8 L358.1,221.7 L358.8,218.9 L359.1,223.9 L359.9,237.5 L360.5,245.2 L360.9,251.0 L361.8,266.8 L362.5,279.8 L362.6,281.3 L363.6,286.2 L364.4,290.8 L364.5,290.7 L365.4,301.2 L366.2,313.0 L367.1,319.8 L368.1,327.1 L368.8,331.9 L368.9,332.8 L369.9,337.3 L370.8,340.2 L371.6,343.3 L371.8,344.0 L372.6,343.7 L373.4,342.6 L374.4,340.5 L374.5,339.9 L375.2,339.0 L376.1,337.5 L377.1,336.6 L377.5,336.0 L377.9,336.4 L378.9,338.3 L379.8,340.3 L380.0,340.7 L380.6,341.8 L381.6,344.5 L382.4,347.2 L383.0,347.8 L383.4,348.0 L384.2,349.6 L385.1,350.8 L386.1,351.9 L386.2,352.9 L386.9,349.5 L387.9,345.7 L388.8,342.0 L389.6,336.5 L390.6,331.3 L391.2,327.5 L391.4,327.7 L392.4,325.8 L393.2,323.7 L394.1,321.1 L394.2,321.0 L395.1,322.2 L395.9,324.0 L396.9,326.3 L397.0,326.5 L397.8,327.8 L398.6,329.4 L399.6,331.4 L400.0,332.5 L400.4,332.9 L401.4,334.5 L402.2,336.7 L402.5,336.4 L403.1,335.5 L404.1,333.9 L404.9,333.5 L405.9,332.3 L406.2,331.7 L406.8,332.6 L407.6,334.4 L408.6,336.1 L408.8,335.7 L409.4,337.4 L410.4,339.5 L411.2,340.5 L411.8,342.1 L412.1,341.6 L413.1,339.2 L413.9,337.7 L414.9,336.2 L415.0,335.8 L415.8,334.7 L416.6,332.4 L417.5,330.9 L417.6,330.9 L418.4,327.2 L419.4,323.1 L420.0,320.0 L420.2,319.7 L421.1,316.4 L422.1,314.9 L422.5,313.6 L422.9,313.5 L423.9,314.2 L424.8,314.2 L425.6,314.4 L426.2,315.4 L426.6,315.7 L427.4,317.0 L428.4,317.2 L429.2,317.5 L430.0,318.0 L430.1,318.7 L431.1,316.3 L431.9,313.7 L432.5,312.0 L432.9,311.3 L433.8,310.5 L434.6,309.8 L435.5,309.2 L435.6,309.5 L436.4,309.7 L437.4,309.6 L438.0,309.6 L438.2,307.9 L439.1,305.0 L440.1,302.6 L440.9,299.5 L441.2,298.8 L441.9,298.7 L442.8,300.1 L443.6,300.9 L444.2,301.4 L444.6,300.9 L445.4,298.1 L446.4,296.5 L447.2,294.8 L447.5,295.4 L448.1,292.5 L449.1,288.6 L449.9,285.5 L450.0,284.7 L450.9,283.2 L451.8,280.3 L452.6,277.9 L453.6,275.1 L453.8,275.1 L454.4,271.1 L455.4,268.0 L455.5,267.1 L456.2,270.1 L457.1,273.1 L457.5,274.8 L458.1,277.2 L458.9,281.0 L459.9,284.7 L460.0,285.4 L460.8,288.3 L461.6,290.9 L462.0,291.6 L462.6,290.2 L463.4,289.2 L463.8,288.5 L464.4,286.4 L465.2,282.2 L466.1,277.6 L466.2,277.7 L467.1,275.0 L467.9,270.6 L468.0,269.8 L468.9,268.5 L469.8,268.0 L470.0,267.3 L470.6,269.1 L471.6,272.1 L471.8,272.6 L472.4,267.3 L473.4,260.3 L473.8,257.1 L474.2,255.4 L475.1,251.9 L476.1,248.6 L476.2,247.4 L476.9,248.6 L477.9,250.0 L478.0,250.2 L478.8,245.6 L479.6,240.3 L480.0,237.9 L480.6,235.0 L481.4,229.9 L482.0,227.5 L482.4,227.2 L483.2,226.6 L484.0,225.8 L484.1,226.8 L485.1,230.9 L485.5,232.0 L485.9,229.7 L486.9,225.7 L487.5,222.4 L487.8,221.9 L488.6,219.3 L489.2,217.6 L489.6,221.6 L490.4,232.7 L491.2,242.5 L491.4,243.3 L492.2,253.9 L493.0,262.0 L493.1,263.3 L494.1,267.6 L494.5,269.9 L494.9,268.4 L495.9,264.6 L496.2,262.1 L496.8,252.2 L497.6,234.5 L498.0,227.0 L498.6,216.3 L499.4,200.6 L500.0,190.9 L500.4,191.2 L501.2,191.0 L502.0,190.8 L502.1,191.3 L503.1,194.2 L503.9,196.5 L504.9,198.9 L505.0,198.8 L505.8,198.8 L506.6,197.9 L507.0,197.9 L507.6,193.7 L508.4,189.0 L508.8,187.3 L509.4,188.4 L510.2,190.9 L511.1,192.7 L511.2,192.6 L512.0,196.7 L513.0,202.5 L513.0,202.7 L513.9,199.7 L514.8,195.9 L515.0,195.6 L515.6,193.5 L516.5,190.3 L517.0,188.8 L517.5,191.3 L518.4,198.3 L518.8,200.7 L519.2,205.4 L520.1,212.3 L521.0,219.3 L521.2,221.2 L522.0,220.3 L522.9,218.4 L523.8,217.2 L524.6,210.4 L525.5,203.1 L526.2,196.9 L526.5,196.7 L527.4,194.9 L528.2,193.3 L528.8,192.7 L529.1,195.2 L530.0,200.4 L531.0,205.0 L531.2,207.3 L531.9,211.6 L532.8,217.9 L533.0,219.9 L533.6,226.5 L534.5,233.4 L535.0,236.7 L535.5,238.0 L536.4,238.8 L537.0,240.4 L537.2,237.6 L538.1,229.8 L538.8,225.2 L539.0,225.1 L540.0,223.7 L540.5,222.9 L540.9,224.0 L541.8,227.1 L542.5,229.9 L542.6,230.7 L543.5,232.1 L544.5,233.2 L545.0,234.0 L545.4,233.0 L546.2,230.1 L547.1,226.5 L547.5,225.1 L548.0,224.7 L548.8,225.0 L549.0,225.1 L549.9,228.3 L550.5,229.3 L550.8,229.4 L551.6,227.2 L552.5,225.5 L552.5,225.6 L553.5,225.2 L554.4,224.8 L555.0,224.6 L555.2,225.4 L556.1,228.1 L557.0,232.1 L557.5,233.2 L558.0,233.1 L558.9,233.7 L559.8,233.5 L560.0,233.3 L560.6,232.0 L561.5,231.2 L562.5,228.9 L562.5,228.4 L563.4,230.7 L564.2,232.2 L565.0,234.2 L565.1,235.7 L566.0,239.0 L567.0,242.8 L567.5,245.3 L567.9,243.9 L568.8,242.4 L569.6,240.4 L570.0,239.4 L570.5,239.8 L571.5,240.5 L572.4,240.9 L572.5,240.8 L573.2,243.3 L574.1,246.0 L575.0,248.0 L575.0,247.6 L576.0,244.8 L576.0,244.5 L576.9,244.0 L577.8,244.1 L578.6,244.4 L579.5,244.3 L579.8,244.0 L580.5,244.8 L581.4,246.2 L582.2,247.6 L583.1,249.6 L584.0,251.9 L585.0,253.0 L585.9,255.6 L586.0,254.6 L586.8,250.8 L587.6,246.7 L588.5,242.9 L589.5,239.4 L589.8,239.3 L590.4,239.3 L591.2,240.7 L592.1,241.2 L592.2,241.4 L593.0,239.7 L594.0,239.5 L594.8,237.9 L594.9,237.2 L595.8,235.9 L596.6,233.3 L597.2,231.7 L597.5,230.8 L598.5,228.6 L599.4,226.3 L599.8,225.8 L600.2,227.0 L601.1,227.4 L602.0,227.5 L602.2,228.0 L603.0,226.3 L603.9,225.6 L604.8,224.0 L605.6,222.6 L606.5,222.2 L606.5,222.9 L607.5,232.9 L608.4,243.4 L608.5,245.5 L609.2,255.2 L610.1,265.7 L610.5,268.9 L611.0,273.6 L612.0,278.8 L612.9,283.9 L613.0,285.1 L613.8,282.6 L614.6,280.4 L615.5,277.2 L615.5,277.0 L616.5,272.9 L617.4,270.1 L618.2,266.1 L618.5,265.5 L619.1,263.1 L620.0,258.5 L621.0,254.7 L621.5,252.7 L621.9,251.2 L622.8,247.5 L623.6,244.3 L624.0,243.1 L624.5,240.5 L625.5,237.0 L626.0,235.3 L626.4,236.8 L627.2,240.6 L628.0,243.4 L628.1,245.5 L629.0,252.2 L629.8,257.7 L630.0,258.9 L630.9,264.6 L631.5,268.9 L631.8,267.8 L632.6,265.9 L633.5,264.3 L633.5,263.9 L634.5,258.1 L635.4,252.2 L636.0,247.7 L636.2,247.9 L637.1,245.4 L638.0,243.6 L638.5,243.1 L639.0,243.1 L639.9,242.9 L640.8,243.0 L641.0,244.1 L641.6,241.6 L642.5,239.0 L643.5,236.6 L643.5,236.4 L644.4,232.2 L645.2,228.1 L646.0,225.6 L646.1,226.1 L647.0,229.5 L648.0,232.9 L648.5,235.0 L648.9,233.4 L649.8,230.2 L650.6,228.4 L651.0,227.2 L651.5,226.6 L652.5,225.6 L653.4,226.0 L653.5,225.5 L654.2,227.7 L655.1,231.1 L656.0,233.8 L656.0,234.0 L657.0,232.4 L657.9,230.5 L658.5,230.1 L658.8,231.0 L659.6,232.9 L660.5,235.4 L661.0,236.4 L661.5,236.0 L662.4,236.8 L663.2,237.0 L664.1,237.1 L664.8,237.9 L665.0,236.8 L666.0,236.9 L666.9,236.7 L667.8,234.9 L668.5,234.6 L668.6,234.9 L669.5,235.8 L670.5,237.0 L671.4,238.2 L672.2,239.7 L673.1,239.0 L674.0,237.7 L675.0,238.2 L675.9,238.0 L676.0,237.3 L676.8,239.7 L677.6,242.6 L678.5,243.6 L678.5,243.8 L679.5,249.6 L680.4,255.8 L681.0,259.9 L681.2,260.0 L682.1,263.4 L683.0,265.5 L683.0,265.5 L684.0,260.7 L684.9,254.3 L685.5,249.9 L685.8,249.3 L686.6,245.3 L687.5,241.8 L688.5,237.9 L688.5,238.8 L689.4,237.4 L690.2,235.9 L690.5,235.4 L691.1,237.0 L692.0,238.3 L693.0,240.7 L693.0,241.4 L693.9,241.2 L694.8,241.9 L695.5,242.4 L695.6,242.0 L696.5,241.9 L697.5,240.4 L698.0,239.3 L698.4,239.8 L699.2,242.9 L700.1,245.8 L700.2,246.1 L701.0,232.3 L701.8,221.1 L702.0,220.4 L702.9,217.4 L703.5,215.0 L703.8,215.3 L704.6,213.0 L705.5,211.0 L705.5,211.7 L706.5,220.2 L707.2,227.6 L707.4,227.9 L708.2,234.1 L709.0,239.6 L709.1,238.6 L710.0,234.3 L711.0,230.8 L711.0,230.2 L711.9,226.7 L712.8,223.5 L713.0,221.6 L713.6,224.2 L714.5,226.0 L714.8,226.5 L715.5,230.5 L716.4,235.7 L716.5,235.8 L717.2,239.2 L718.1,241.9 L718.5,242.9 L719.0,244.6 L720.0,244.2 L720.9,245.3 L721.0,245.2 L721.8,245.6 L722.6,248.0 L723.5,248.4 L723.5,248.6 L724.5,249.1 L725.4,249.7 L726.0,249.6 L726.2,250.6 L727.1,251.5 L728.0,251.7 L728.5,251.8 L729.0,252.1 L729.9,251.4 L730.8,251.6 L731.6,251.5 L732.2,251.0 L732.5,252.0 L733.5,256.8 L734.4,262.4 L734.8,264.6 L735.2,269.4 L736.1,275.6 L737.0,282.5 L737.2,284.2 L738.0,279.4 L738.9,273.6 L739.8,268.1 L740.6,263.9 L741.5,260.3 L741.5,260.3 L742.5,266.8 L743.4,272.1 L743.5,273.1 L744.2,280.0 L745.1,290.4 L745.5,294.2 L746.0,299.3 L747.0,307.0 L747.2,309.4 L747.9,309.9 L748.8,310.9 L749.6,311.7 L749.8,311.3 L750.5,310.7 L751.5,309.0 L752.2,308.3 L752.4,308.1 L753.2,311.6 L754.1,315.4 L754.8,316.7 L755.0,318.4 L756.0,321.6 L756.9,325.7 L757.2,329.0 L757.8,326.9 L758.6,324.0 L759.5,320.2 L759.8,319.8 L760.5,318.8 L761.4,318.7 L762.2,317.4 L763.1,316.3 L764.0,313.1 L764.8,311.4 L765.0,310.0 L765.9,307.9 L766.8,306.5 L767.2,305.1 L767.6,303.7 L768.5,302.4 L769.5,301.0 L769.8,300.4 L770.4,300.0 L771.2,298.2 L772.1,298.2 L772.2,298.1 L773.0,295.7 L774.0,295.5 L774.8,293.8 L774.9,293.8 L775.8,291.0 L776.6,289.3 L777.2,287.6 L777.5,288.3 L778.5,287.4 L779.4,286.2 L779.8,285.8 L780.2,286.8 L781.1,286.8 L782.0,287.6 L782.2,287.1 L783.0,287.3 L783.9,288.4 L784.8,289.5 L785.6,286.7 L786.5,284.0 L787.2,281.2 L787.5,280.4 L788.4,277.7 L789.2,274.6 L789.8,272.6 L790.1,272.1 L791.0,269.7 L792.0,268.5 L792.2,267.7 L792.9,267.9 L793.8,268.3 L794.6,267.3 L795.5,267.7 L796.0,267.3 L796.5,267.2 L797.4,266.8 L798.2,266.9 L799.1,266.2 L799.8,265.2 L800.0,266.2 L801.0,267.2 L801.9,268.5 L802.8,269.6 L803.5,269.6 L803.6,269.9 L804.5,269.9 L805.5,269.7 L806.4,269.6 L807.2,269.7 L808.1,271.8 L809.0,274.2 L809.8,276.6 L810.0,276.4 L810.9,278.3 L811.8,279.7 L812.2,280.5 L812.6,281.7 L813.5,284.3 L814.5,287.3 L814.8,287.7 L815.4,289.8 L816.2,292.5 L817.1,295.0 L817.2,293.8 L818.0,291.7 L819.0,288.8 L819.8,285.7 L819.9,285.9 L820.8,285.8 L821.6,284.1 L822.2,283.4 L822.5,284.3 L823.5,284.3 L824.4,285.1 L824.8,286.0 L825.2,286.3 L826.1,286.2 L827.0,285.8 L827.2,286.3 L828.0,286.5 L828.9,286.5 L829.8,287.3 L830.6,289.7 L831.5,291.8 L832.0,291.8 L832.5,292.9 L833.0,293.3 L833.4,292.9 L834.2,292.4 L835.1,290.7 L835.5,289.8 L836.0,289.6 L837.0,288.9 L837.9,289.5 L838.0,289.5 L838.8,288.4 L839.6,286.4 L840.5,284.8 L840.5,284.9 L841.5,282.2 L842.4,281.3 L843.0,279.4 L843.2,279.5 L844.1,278.9 L845.0,277.6 L845.5,277.5 L846.0,279.6 L846.9,283.9 L847.8,287.2 L848.0,288.6 L848.6,287.9 L849.5,287.0 L850.5,286.8 L850.5,286.3 L851.4,283.4 L852.2,280.4 L853.0,278.2 L853.1,277.9 L854.0,276.6 L855.0,276.9 L855.5,276.5 L855.9,276.0 L856.8,275.0 L857.6,274.8 L858.0,274.7 L858.5,276.7 L859.5,279.5 L860.0,282.0 L860.4,282.3 L861.2,284.4 L862.1,286.4 L862.5,287.6 L863.0,286.9 L864.0,286.5 L864.9,286.3 L865.5,285.9 L865.8,285.9 L866.6,286.1 L867.5,287.2 L868.0,288.1 L868.5,288.3 L869.4,290.5 L870.2,291.6 L870.5,292.0 L871.1,292.7 L872.0,293.9 L872.5,294.6 L873.0,293.2 L873.9,292.1 L874.8,291.6 L875.5,290.9 L875.6,292.1 L876.5,291.9 L877.5,291.7 L878.4,292.6 L879.2,291.6 L880.1,289.6 L881.0,289.8 L881.8,288.0 L882.0,287.9 L882.9,287.1 L883.8,286.0 L884.6,285.5 L885.0,284.8 L885.5,285.9 L886.5,286.8 L887.4,287.5 L888.0,287.3 L888.2,286.9 L889.1,288.2 L890.0,289.1 L891.0,290.8 L891.8,291.2 L891.9,291.0 L892.8,289.9 L893.6,288.6 L894.2,287.5 L894.5,286.6 L895.5,285.5 L896.4,285.6 L896.8,285.2 L897.2,284.8 L898.1,286.3 L899.0,286.5 L899.2,286.4 L900.0,285.5 L900.9,285.6 L901.8,284.8 L902.6,283.9 L903.5,282.7 L904.2,281.8 L904.5,282.3 L905.4,282.9 L906.2,284.1 L906.8,283.7 L907.1,283.9 L908.0,285.4 L908.5,286.0 L909.0,284.5 L909.9,283.2 L910.5,281.8 L910.8,281.3 L911.6,278.8 L912.5,276.9 L912.5,276.3 L913.5,275.3 L914.2,275.0 L914.4,275.1 L915.2,277.3 L916.0,279.4" fill="none" stroke="#f89a4b" stroke-width="1.5" stroke-linejoin="round"/>
<path d="M78.2,484.5 C79.2,484.4 82.2,483.8 84.0,483.8 C85.8,483.7 86.9,484.0 89.0,484.0 C91.1,484.0 94.0,483.7 96.5,483.5 C99.0,483.3 101.9,483.8 104.0,483.0 C106.1,482.2 107.3,479.0 109.0,478.8 C110.7,478.5 112.3,481.2 114.0,481.2 C115.7,481.2 117.5,479.6 119.0,478.8 C120.5,477.9 121.3,475.7 122.8,476.2 C124.2,476.8 126.1,482.0 127.8,482.0 C129.4,482.0 131.3,477.8 132.8,476.2 C134.2,474.8 135.2,473.4 136.5,473.0 C137.8,472.6 138.8,474.2 140.2,473.8 C141.7,473.2 143.8,470.0 145.2,470.0 C146.7,470.0 147.5,472.9 149.0,473.8 C150.5,474.6 152.3,474.9 154.0,475.0 C155.7,475.1 157.3,474.9 159.0,474.5 C160.7,474.1 162.3,472.9 164.0,472.5 C165.7,472.1 167.1,472.0 169.0,472.0 C170.9,472.0 173.5,472.8 175.2,472.5 C177.0,472.2 178.0,469.6 179.5,470.0 C181.0,470.4 182.4,474.1 184.0,475.0 C185.6,475.9 187.3,475.5 189.0,475.5 C190.7,475.5 192.1,475.2 194.0,475.0 C195.9,474.8 198.2,474.5 200.2,474.5 C202.3,474.5 204.6,475.0 206.5,475.0 C208.4,475.0 210.0,474.9 211.5,474.5 C213.0,474.1 213.8,472.9 215.2,472.5 C216.7,472.1 218.6,472.3 220.2,472.0 C221.9,471.7 223.8,471.5 225.2,470.5 C226.7,469.5 227.5,466.1 229.0,466.2 C230.5,466.4 232.3,470.5 234.0,471.2 C235.7,472.0 237.3,471.1 239.0,470.5 C240.7,469.9 242.3,468.1 244.0,467.5 C245.7,466.9 247.5,467.4 249.0,467.0 C250.5,466.6 251.3,465.3 252.8,465.0 C254.2,464.7 256.3,465.3 257.8,465.0 C259.2,464.7 260.1,464.0 261.5,463.0 C262.9,462.0 264.5,458.8 266.0,458.8 C267.5,458.7 268.5,462.0 270.2,462.5 C272.0,463.0 274.8,463.2 276.5,462.0 C278.2,460.8 279.0,457.6 280.2,455.0 C281.5,452.4 282.8,448.5 284.0,446.2 C285.2,444.0 286.4,442.4 287.8,441.2 C289.1,440.1 290.5,439.1 292.0,439.5 C293.5,439.9 295.1,442.0 296.5,443.8 C297.9,445.5 299.0,448.3 300.2,450.0 C301.5,451.7 302.6,452.5 304.0,453.8 C305.4,455.0 307.0,459.8 308.5,457.5 C310.0,455.2 311.4,442.4 312.8,440.0 C314.1,437.6 315.5,442.9 316.5,443.0 C317.5,443.1 318.4,440.8 319.0,440.5 C319.6,440.2 319.4,440.5 320.0,441.2 C320.6,442.0 321.5,442.7 322.5,445.0 C323.5,447.3 325.0,454.2 326.2,455.0 C327.5,455.8 328.8,451.9 330.0,450.0 C331.2,448.1 332.5,444.6 333.8,443.8 C335.0,442.9 336.2,445.4 337.5,445.0 C338.8,444.6 340.2,442.7 341.2,441.2 C342.3,439.8 342.9,438.5 343.8,436.2 C344.6,434.0 345.4,432.7 346.2,427.5 C347.1,422.3 348.0,413.3 348.8,405.0 C349.5,396.7 349.9,385.6 350.5,377.5 C351.1,369.4 351.9,358.8 352.5,356.2 C353.1,353.8 353.6,364.0 354.2,362.5 C354.9,361.0 355.6,352.3 356.2,347.5 C356.9,342.7 357.6,334.6 358.2,333.8 C358.9,332.9 359.4,336.5 360.0,342.5 C360.6,348.5 361.4,361.2 362.0,370.0 C362.6,378.8 363.2,387.1 363.8,395.0 C364.3,402.9 364.7,411.2 365.5,417.5 C366.3,423.8 367.8,428.8 368.8,432.5 C369.7,436.2 370.3,438.3 371.2,440.0 C372.2,441.7 373.2,442.0 374.5,442.5 C375.8,443.0 377.4,442.0 378.8,443.0 C380.1,444.0 381.1,447.0 382.5,448.8 C383.9,450.5 385.8,454.0 387.0,453.8 C388.2,453.5 388.8,449.7 390.0,447.5 C391.2,445.3 393.0,440.9 394.2,440.5 C395.5,440.1 396.3,443.0 397.5,445.0 C398.7,447.0 400.0,450.9 401.2,452.5 C402.5,454.1 403.8,453.9 405.0,454.5 C406.2,455.1 407.5,455.5 408.8,456.2 C410.0,457.0 411.2,458.5 412.5,458.8 C413.8,459.0 415.0,457.8 416.2,457.5 C417.5,457.2 418.8,457.2 420.0,457.0 C421.2,456.8 422.5,456.2 423.8,456.2 C425.0,456.2 426.2,456.4 427.5,457.0 C428.8,457.6 430.0,459.8 431.2,460.0 C432.5,460.2 433.8,458.1 435.0,458.0 C436.2,457.9 437.5,459.4 438.8,459.5 C440.0,459.6 441.2,458.7 442.5,458.8 C443.8,458.8 445.0,459.6 446.2,460.0 C447.5,460.4 448.5,461.7 450.0,461.2 C451.5,460.8 453.5,458.8 455.0,457.5 C456.5,456.2 457.5,453.2 458.8,453.2 C460.0,453.3 461.2,457.0 462.5,458.0 C463.8,459.0 465.0,459.4 466.2,459.5 C467.5,459.6 468.8,458.6 470.0,458.8 C471.2,458.9 472.5,460.4 473.8,460.5 C475.0,460.6 476.2,459.5 477.5,459.5 C478.8,459.5 480.0,460.3 481.2,460.5 C482.5,460.7 483.8,461.2 485.0,460.5 C486.2,459.8 487.5,457.2 488.8,456.2 C490.0,455.3 491.2,455.8 492.5,455.0 C493.8,454.2 494.9,452.9 496.2,451.2 C497.6,449.6 499.2,445.0 500.5,445.0 C501.8,445.0 502.6,450.4 503.8,451.2 C504.9,452.1 506.2,450.3 507.5,450.0 C508.8,449.7 510.2,451.0 511.2,449.5 C512.3,448.0 512.8,443.5 513.8,441.2 C514.7,439.0 516.0,436.0 517.0,436.2 C518.0,436.5 519.0,441.2 520.0,442.5 C521.0,443.8 521.8,445.2 523.0,443.8 C524.2,442.3 525.8,434.4 527.0,433.8 C528.2,433.1 528.9,437.5 530.0,440.0 C531.1,442.5 532.5,446.2 533.8,448.8 C535.0,451.2 536.2,454.2 537.5,455.0 C538.8,455.8 540.0,453.5 541.2,453.8 C542.5,454.0 543.8,455.6 545.0,456.2 C546.2,456.9 547.5,457.5 548.8,457.5 C550.0,457.5 551.2,456.2 552.5,456.2 C553.8,456.3 555.0,457.3 556.2,458.0 C557.5,458.7 558.8,460.2 560.0,460.5 C561.2,460.8 562.5,459.4 563.8,459.5 C565.0,459.6 566.2,461.4 567.5,461.2 C568.8,461.1 570.0,459.0 571.2,458.8 C572.5,458.5 574.2,459.8 575.0,460.0 C575.8,460.2 575.2,459.8 576.0,460.0 C576.8,460.2 578.5,461.2 579.8,461.2 C581.0,461.3 582.4,460.0 583.5,460.5 C584.6,461.0 585.5,464.8 586.5,464.5 C587.5,464.2 588.6,459.3 589.8,458.8 C590.9,458.2 592.2,461.7 593.5,461.2 C594.8,460.8 596.1,457.5 597.2,456.2 C598.4,455.0 599.4,454.0 600.5,453.8 C601.6,453.5 602.9,455.4 604.0,455.0 C605.1,454.6 606.3,452.1 607.2,451.2 C608.2,450.4 608.9,449.2 609.8,450.0 C610.6,450.8 611.2,455.3 612.2,456.2 C613.3,457.2 614.8,455.7 616.0,455.5 C617.2,455.3 618.6,455.9 619.8,455.0 C620.9,454.1 622.0,451.9 623.0,450.0 C624.0,448.1 625.1,444.2 626.0,443.8 C626.9,443.2 627.6,445.6 628.5,447.0 C629.4,448.4 630.5,451.5 631.5,452.0 C632.5,452.5 633.6,450.4 634.8,450.0 C635.9,449.6 637.2,449.4 638.5,449.5 C639.8,449.6 641.0,450.9 642.2,450.5 C643.5,450.1 644.8,447.8 646.0,447.0 C647.2,446.2 648.5,446.7 649.8,445.5 C651.0,444.3 652.2,441.0 653.5,440.0 C654.8,439.0 656.0,439.7 657.2,439.5 C658.5,439.3 660.0,439.0 661.0,438.8 C662.0,438.5 662.6,437.4 663.5,438.0 C664.4,438.6 665.5,441.4 666.5,442.5 C667.5,443.6 668.6,443.9 669.8,444.5 C670.9,445.1 672.2,445.8 673.5,446.2 C674.8,446.7 676.0,447.0 677.2,447.0 C678.5,447.0 679.8,447.2 681.0,446.2 C682.2,445.3 683.6,442.7 684.8,441.2 C685.9,439.8 687.0,438.8 688.0,437.5 C689.0,436.2 689.7,433.8 690.5,433.8 C691.3,433.8 692.2,436.8 693.0,437.5 C693.8,438.2 694.6,439.0 695.5,438.0 C696.4,437.0 697.6,433.4 698.5,431.2 C699.4,429.1 700.2,427.9 701.0,425.0 C701.8,422.1 702.4,416.0 703.0,413.8 C703.6,411.5 704.2,410.6 704.8,411.2 C705.3,411.9 705.9,415.2 706.5,417.5 C707.1,419.8 707.8,425.4 708.5,425.0 C709.2,424.6 710.2,418.0 711.0,415.0 C711.8,412.0 712.2,408.9 713.0,407.0 C713.8,405.1 715.1,404.1 716.0,403.8 C716.9,403.4 717.7,403.5 718.5,405.0 C719.3,406.5 720.1,411.7 721.0,412.5 C721.9,413.3 723.0,410.3 724.0,410.0 C725.0,409.7 726.2,410.9 727.2,410.5 C728.3,410.1 729.4,408.8 730.5,407.5 C731.6,406.2 732.9,403.4 734.0,403.0 C735.1,402.6 736.3,404.9 737.2,405.0 C738.2,405.1 738.9,405.1 739.8,403.8 C740.6,402.4 741.4,397.2 742.2,397.0 C743.1,396.8 744.0,399.1 744.8,402.5 C745.5,405.9 745.9,413.5 746.5,417.5 C747.1,421.5 747.8,424.0 748.5,426.2 C749.2,428.5 750.1,430.0 751.0,431.2 C751.9,432.5 753.0,432.8 754.0,433.8 C755.0,434.7 756.1,436.6 757.2,437.0 C758.4,437.4 759.8,436.2 761.0,436.2 C762.2,436.3 763.5,438.0 764.8,437.5 C766.0,437.0 767.2,434.2 768.5,433.0 C769.8,431.8 771.0,430.6 772.2,430.0 C773.5,429.4 774.8,430.2 776.0,429.5 C777.2,428.8 778.5,425.6 779.8,425.5 C781.0,425.4 782.5,427.7 783.5,428.8 C784.5,429.8 785.0,432.8 786.0,432.0 C787.0,431.2 788.5,425.5 789.8,423.8 C791.0,422.0 792.2,422.5 793.5,421.2 C794.8,420.0 796.3,417.5 797.2,416.2 C798.2,415.0 798.2,413.1 799.0,413.8 C799.8,414.4 801.1,418.8 802.2,420.0 C803.4,421.2 804.8,420.4 806.0,421.2 C807.2,422.1 808.5,424.2 809.8,425.0 C811.0,425.8 812.2,425.8 813.5,426.2 C814.8,426.7 816.0,426.7 817.2,427.5 C818.5,428.3 819.8,430.0 821.0,431.2 C822.2,432.5 823.5,434.2 824.8,435.0 C826.0,435.8 827.5,435.6 828.5,436.2 C829.5,436.9 830.3,438.6 831.0,439.0 C831.7,439.4 831.8,439.1 832.5,438.8 C833.2,438.4 834.4,437.0 835.5,437.0 C836.6,437.0 838.0,438.9 839.2,438.8 C840.5,438.6 841.8,436.0 843.0,436.2 C844.2,436.5 845.5,439.2 846.8,440.0 C848.0,440.8 849.2,441.6 850.5,441.2 C851.8,440.9 853.1,439.0 854.2,438.0 C855.4,437.0 856.5,434.5 857.5,435.0 C858.5,435.5 859.4,439.8 860.5,441.2 C861.6,442.7 863.0,443.5 864.2,443.8 C865.5,444.0 866.8,441.9 868.0,442.5 C869.2,443.1 870.5,446.5 871.8,447.5 C873.0,448.5 874.2,448.7 875.5,448.8 C876.8,448.8 878.0,448.2 879.2,448.0 C880.5,447.8 881.8,447.2 883.0,447.5 C884.2,447.8 885.5,448.9 886.8,449.5 C888.0,450.1 889.2,451.2 890.5,451.2 C891.8,451.3 893.0,450.1 894.2,450.0 C895.5,449.9 896.8,450.2 898.0,450.5 C899.2,450.8 900.5,451.9 901.8,452.0 C903.0,452.1 904.2,451.2 905.5,451.2 C906.8,451.3 908.0,452.7 909.2,452.5 C910.5,452.3 911.9,450.4 913.0,450.0 C914.1,449.6 915.5,450.0 916.0,450.0" fill="none" stroke="#20d894" stroke-width="2" stroke-linejoin="round" stroke-linecap="round"/>
<path d="M78.2,485.8 C79.2,485.7 82.2,485.5 84.0,485.5 C85.8,485.5 86.9,485.5 89.0,485.5 C91.1,485.5 94.0,485.6 96.5,485.5 C99.0,485.4 101.9,485.8 104.0,485.0 C106.1,484.2 107.3,480.9 109.0,480.5 C110.7,480.1 112.3,482.8 114.0,482.5 C115.7,482.2 117.5,479.8 119.0,478.8 C120.5,477.7 121.3,475.5 122.8,476.2 C124.2,477.0 126.1,482.4 127.8,483.0 C129.4,483.6 131.1,481.1 132.8,480.0 C134.4,478.9 136.3,477.1 137.8,476.2 C139.2,475.4 140.4,475.6 141.5,475.0 C142.6,474.4 143.2,472.2 144.5,472.5 C145.8,472.8 147.4,476.0 149.0,477.0 C150.6,478.0 152.3,478.7 154.0,478.8 C155.7,478.8 157.3,477.8 159.0,477.5 C160.7,477.2 162.3,476.9 164.0,477.0 C165.7,477.1 167.1,478.1 169.0,478.0 C170.9,477.9 173.5,476.9 175.2,476.2 C177.0,475.6 178.0,474.0 179.5,474.2 C181.0,474.5 182.4,476.8 184.0,477.5 C185.6,478.2 187.3,478.6 189.0,478.8 C190.7,478.9 192.1,478.2 194.0,478.2 C195.9,478.2 198.2,478.7 200.2,478.8 C202.3,478.8 204.6,479.0 206.5,478.8 C208.4,478.5 210.0,477.6 211.5,477.0 C213.0,476.4 213.8,475.1 215.2,475.0 C216.7,474.9 218.6,476.2 220.2,476.2 C221.9,476.2 223.6,475.3 225.2,475.0 C226.9,474.7 228.4,474.6 230.2,474.5 C232.1,474.4 234.6,474.6 236.5,474.5 C238.4,474.4 239.8,474.1 241.5,473.8 C243.2,473.4 244.8,472.8 246.5,472.5 C248.2,472.2 249.6,472.2 251.5,472.0 C253.4,471.8 255.7,471.6 257.8,471.2 C259.8,470.9 261.9,470.2 264.0,470.0 C266.1,469.8 268.2,470.2 270.2,470.0 C272.3,469.8 274.8,469.8 276.5,468.8 C278.2,467.7 279.0,465.0 280.2,463.8 C281.5,462.5 282.5,463.0 284.0,461.2 C285.5,459.5 287.5,454.0 289.0,453.0 C290.5,452.0 291.5,454.2 292.8,455.0 C294.0,455.8 295.0,456.7 296.5,457.5 C298.0,458.3 299.5,459.2 301.5,460.0 C303.5,460.8 306.6,463.4 308.5,462.5 C310.4,461.6 311.4,455.5 312.8,454.5 C314.1,453.5 315.5,456.3 316.5,456.2 C317.5,456.2 318.4,454.0 319.0,454.0 C319.6,454.0 319.4,455.5 320.0,456.2 C320.6,457.0 321.5,457.8 322.5,458.8 C323.5,459.7 325.0,462.2 326.2,462.0 C327.5,461.8 328.8,459.0 330.0,457.5 C331.2,456.0 332.5,453.9 333.8,453.0 C335.0,452.1 336.2,452.4 337.5,452.0 C338.8,451.6 340.2,451.7 341.2,450.5 C342.3,449.3 342.9,447.2 343.8,445.0 C344.6,442.8 345.4,439.2 346.2,437.5 C347.1,435.8 347.9,436.5 348.8,435.0 C349.6,433.5 350.2,429.2 351.2,428.8 C352.3,428.2 354.0,433.5 355.0,432.0 C356.0,430.5 356.7,422.5 357.5,420.0 C358.3,417.5 359.2,415.8 360.0,417.0 C360.8,418.2 361.2,423.5 362.0,427.5 C362.8,431.5 363.6,437.9 364.5,441.2 C365.4,444.6 366.4,445.6 367.5,447.5 C368.6,449.4 370.1,451.5 371.2,452.5 C372.4,453.5 373.2,453.5 374.5,453.8 C375.8,454.0 377.4,453.1 378.8,453.8 C380.1,454.4 381.1,456.2 382.5,457.5 C383.9,458.8 385.8,461.5 387.0,461.2 C388.2,461.0 388.8,458.0 390.0,456.2 C391.2,454.5 393.0,451.1 394.2,450.5 C395.5,449.9 396.3,451.1 397.5,452.5 C398.7,453.9 399.8,457.6 401.2,458.8 C402.7,459.9 404.6,458.5 406.2,459.5 C407.9,460.5 409.6,463.8 411.2,464.5 C412.9,465.2 414.6,464.2 416.2,463.8 C417.9,463.3 419.6,461.9 421.2,462.0 C422.9,462.1 424.6,463.7 426.2,464.5 C427.9,465.3 429.6,466.9 431.2,467.0 C432.9,467.1 434.4,465.2 436.2,465.0 C438.1,464.8 440.4,465.4 442.5,465.5 C444.6,465.6 446.7,465.7 448.8,465.5 C450.8,465.3 453.3,465.0 455.0,464.5 C456.7,464.0 457.5,462.5 458.8,462.5 C460.0,462.5 461.2,464.0 462.5,464.5 C463.8,465.0 465.0,465.0 466.2,465.5 C467.5,466.0 468.5,467.4 470.0,467.5 C471.5,467.6 473.3,466.5 475.0,466.2 C476.7,466.0 478.4,466.0 480.0,466.2 C481.6,466.5 483.0,468.4 484.5,468.0 C486.0,467.6 487.4,464.8 488.8,463.8 C490.1,462.8 491.0,462.8 492.5,462.0 C494.0,461.2 496.0,460.1 497.5,458.8 C499.0,457.4 500.0,454.0 501.2,453.8 C502.5,453.5 503.5,457.0 505.0,457.5 C506.5,458.0 508.5,458.3 510.0,457.0 C511.5,455.7 512.6,451.7 513.8,449.5 C514.9,447.3 516.0,443.7 517.0,443.8 C518.0,443.8 519.0,448.8 520.0,450.0 C521.0,451.2 521.8,452.1 523.0,451.2 C524.2,450.4 525.8,445.2 527.0,445.0 C528.2,444.8 528.9,447.9 530.0,450.0 C531.1,452.1 532.5,455.6 533.8,457.5 C535.0,459.4 536.0,460.4 537.5,461.2 C539.0,462.1 540.8,462.0 542.5,462.5 C544.2,463.0 545.8,464.3 547.5,464.5 C549.2,464.7 551.0,463.7 552.5,463.8 C554.0,463.8 555.0,464.4 556.2,465.0 C557.5,465.6 558.5,467.6 560.0,467.5 C561.5,467.4 563.3,464.7 565.0,464.5 C566.7,464.3 568.3,466.5 570.0,466.2 C571.7,466.0 574.0,463.1 575.0,463.0 C576.0,462.9 575.2,464.8 576.0,465.5 C576.8,466.2 578.5,466.7 579.8,467.0 C581.0,467.3 582.4,467.1 583.5,467.5 C584.6,467.9 585.5,469.8 586.5,469.5 C587.5,469.2 588.6,465.9 589.8,465.5 C590.9,465.1 592.2,467.3 593.5,467.0 C594.8,466.7 596.1,464.7 597.2,463.8 C598.4,462.8 599.4,461.5 600.5,461.2 C601.6,461.0 602.9,462.7 604.0,462.5 C605.1,462.3 606.3,461.0 607.2,460.0 C608.2,459.0 608.9,456.3 609.8,456.2 C610.6,456.2 611.2,458.7 612.2,459.5 C613.3,460.3 614.8,460.8 616.0,461.2 C617.2,461.7 618.6,462.4 619.8,462.0 C620.9,461.6 622.0,460.0 623.0,458.8 C624.0,457.5 625.1,455.1 626.0,454.5 C626.9,453.9 627.6,454.5 628.5,455.0 C629.4,455.5 630.5,457.0 631.5,457.5 C632.5,458.0 633.6,457.8 634.8,458.0 C635.9,458.2 637.2,458.4 638.5,458.8 C639.8,459.1 641.0,460.1 642.2,460.0 C643.5,459.9 644.8,458.6 646.0,458.0 C647.2,457.4 648.5,457.4 649.8,456.2 C651.0,455.1 652.2,452.2 653.5,451.2 C654.8,450.3 656.0,450.5 657.2,450.5 C658.5,450.5 660.0,451.5 661.0,451.2 C662.0,451.0 662.6,448.6 663.5,448.8 C664.4,448.9 665.5,451.2 666.5,452.0 C667.5,452.8 668.6,453.2 669.8,453.8 C670.9,454.2 672.2,454.8 673.5,455.0 C674.8,455.2 676.0,455.4 677.2,455.0 C678.5,454.6 679.8,453.3 681.0,452.5 C682.2,451.7 683.6,450.6 684.8,450.0 C685.9,449.4 687.0,449.7 688.0,448.8 C689.0,447.8 689.7,444.7 690.5,444.5 C691.3,444.3 692.2,446.7 693.0,447.5 C693.8,448.3 694.6,449.8 695.5,449.5 C696.4,449.2 697.5,447.7 698.5,445.5 C699.5,443.3 700.6,438.8 701.5,436.2 C702.4,433.7 703.2,429.8 704.0,430.0 C704.8,430.2 705.8,435.8 706.5,437.5 C707.2,439.2 707.8,440.8 708.5,440.0 C709.2,439.2 710.1,434.6 711.0,432.5 C711.9,430.4 713.0,428.7 714.0,427.5 C715.0,426.3 716.3,425.7 717.2,425.5 C718.2,425.3 718.9,425.1 719.8,426.2 C720.6,427.4 721.4,431.5 722.2,432.5 C723.1,433.5 723.8,431.5 724.8,432.0 C725.7,432.5 727.0,435.2 728.0,435.5 C729.0,435.8 730.0,435.5 731.0,433.8 C732.0,432.0 733.2,426.5 734.0,425.0 C734.8,423.5 735.2,423.2 736.0,424.5 C736.8,425.8 737.7,432.1 738.5,432.5 C739.3,432.9 740.2,427.2 741.0,427.0 C741.8,426.8 742.2,431.4 743.0,431.2 C743.8,431.1 744.7,425.2 745.5,426.2 C746.3,427.3 747.3,434.3 748.0,437.5 C748.7,440.7 749.0,443.8 749.8,445.5 C750.5,447.2 751.2,447.0 752.2,447.5 C753.3,448.0 754.8,447.9 756.0,448.8 C757.2,449.6 758.5,451.2 759.8,452.5 C761.0,453.8 762.2,455.8 763.5,456.2 C764.8,456.7 766.0,455.5 767.2,455.0 C768.5,454.5 769.8,453.5 771.0,453.0 C772.2,452.5 773.5,452.3 774.8,452.0 C776.0,451.7 777.2,451.2 778.5,451.2 C779.8,451.3 781.0,452.0 782.2,452.5 C783.5,453.0 784.8,454.7 786.0,454.5 C787.2,454.3 788.5,452.2 789.8,451.2 C791.0,450.3 792.2,449.5 793.5,448.8 C794.8,448.0 796.0,447.2 797.2,447.0 C798.5,446.8 799.8,447.6 801.0,447.5 C802.2,447.4 803.6,446.6 804.8,446.2 C805.9,445.9 807.0,444.7 808.0,445.5 C809.0,446.3 809.9,450.0 811.0,451.2 C812.1,452.5 813.5,452.9 814.8,453.0 C816.0,453.1 817.2,452.0 818.5,452.0 C819.8,452.0 821.0,453.0 822.2,453.0 C823.5,453.0 825.0,451.9 826.0,452.0 C827.0,452.1 827.7,453.3 828.5,453.8 C829.3,454.2 830.2,454.5 831.0,454.8 C831.8,455.0 832.0,456.0 833.0,455.5 C834.0,455.0 835.5,451.9 836.8,452.0 C838.0,452.1 839.2,455.8 840.5,456.2 C841.8,456.8 843.0,454.9 844.2,455.0 C845.5,455.1 846.8,456.6 848.0,457.0 C849.2,457.4 850.7,458.0 851.8,457.5 C852.8,457.0 853.4,455.6 854.2,453.8 C855.1,451.9 856.0,447.7 856.8,446.2 C857.5,444.8 857.9,444.4 858.5,445.0 C859.1,445.6 859.5,448.5 860.5,450.0 C861.5,451.5 863.1,454.4 864.2,453.8 C865.4,453.1 866.7,447.7 867.5,446.2 C868.3,444.8 868.5,444.2 869.2,445.0 C870.0,445.8 870.9,450.1 871.8,451.2 C872.6,452.4 873.2,451.4 874.2,452.0 C875.3,452.6 876.8,455.1 878.0,455.0 C879.2,454.9 880.5,452.1 881.8,451.2 C883.0,450.4 884.2,449.9 885.5,450.0 C886.8,450.1 888.0,452.1 889.2,452.0 C890.5,451.9 891.8,450.2 893.0,449.5 C894.2,448.8 895.5,448.0 896.8,448.0 C898.0,448.0 899.2,449.6 900.5,449.5 C901.8,449.4 903.0,447.6 904.2,447.5 C905.5,447.4 906.9,448.3 908.0,448.8 C909.1,449.2 910.2,450.6 911.0,450.0 C911.8,449.4 912.4,447.5 913.0,445.0 C913.6,442.5 914.1,437.9 914.5,435.0 C914.9,432.1 915.3,428.8 915.5,427.5" fill="none" stroke="#f2536e" stroke-width="2" stroke-linejoin="round" stroke-linecap="round"/>
<path d="M73.5,105V489.5" stroke="#444" stroke-width="1.5" fill="none"/>
<path d="M921.2,105V489.5" stroke="#cfcfcf" stroke-width="1.3" fill="none"/>
<path d="M952.7,105V489.5" stroke="#f2536e" stroke-width="1.4" fill="none"/>
<g font-size="8.7" fill="#777"><text x="67" y="116.69999999999999" text-anchor="end" font-size="8.5">$80k</text><text x="67" y="156.1" text-anchor="end" font-size="8.5">$40k</text><text x="67" y="231.7" text-anchor="end" font-size="8.5">$10k</text><text x="67" y="260.70000000000005" text-anchor="end" font-size="8.5">$6k</text><text x="67" y="321.70000000000005" text-anchor="end" font-size="8.5">$2k</text><text x="67" y="373.40000000000003" text-anchor="end" font-size="8.5">$800</text><text x="67" y="411.90000000000003" text-anchor="end" font-size="8.5">$400</text><text x="67" y="489.1" text-anchor="end" font-size="8.5">$100</text><text x="928.5" y="201" font-size="8.2" letter-spacing="-0.4">120</text><text x="928.5" y="297" font-size="8.2" letter-spacing="-0.4">80</text><text x="928.5" y="393" font-size="8.2" letter-spacing="-0.4">40</text><text x="928.5" y="489" font-size="8.2" letter-spacing="-0.4">0</text><text x="959.8" y="201" font-size="8.2" letter-spacing="-0.4">360K</text><text x="959.8" y="297" font-size="8.2" letter-spacing="-0.4">240K</text><text x="959.8" y="393" font-size="8.2" letter-spacing="-0.4">120K</text><text x="959.8" y="489" font-size="8.2" letter-spacing="-0.4">0</text><text x="125.2" y="504.2" text-anchor="middle">Jan '16</text><text x="182" y="504.2" text-anchor="middle">Jul '16</text><text x="240" y="504.2" text-anchor="middle">Jan '17</text><text x="297.3" y="504.2" text-anchor="middle">Jul '17</text><text x="355.5" y="504.2" text-anchor="middle">Jan '18</text><text x="413" y="504.2" text-anchor="middle">Jul '18</text><text x="471" y="504.2" text-anchor="middle">Jan '19</text><text x="528.3" y="504.2" text-anchor="middle">Jul '19</text><text x="585.3" y="504.2" text-anchor="middle">Jan '20</text><text x="643" y="504.2" text-anchor="middle">Jul '20</text><text x="700" y="504.2" text-anchor="middle">Jan '21</text><text x="757" y="504.2" text-anchor="middle">Jul '21</text><text x="815.5" y="504.2" text-anchor="middle">Jan '22</text><text x="873" y="504.2" text-anchor="middle">Jul '22</text></g>
<g><circle cx="62.5" cy="91" r="2.9" fill="#444"/><circle cx="154" cy="91" r="2.9" fill="#d2d2d2"/><circle cx="327.3" cy="91" r="2.9" fill="#1fdb94"/><circle cx="512" cy="91" r="2.9" fill="#f4516c"/><circle cx="711.3" cy="91" r="2.9" fill="#f7964a"/></g>
<!-- annotations -->
<path d="M358,379.5H909" stroke="#3b7af5" stroke-width="1" stroke-dasharray="2.4,2.4" fill="none"/>
<circle cx="916.2" cy="379.5" r="7.3" fill="#6f9cf5" fill-opacity="0.35" stroke="#2b6bf3" stroke-width="1" stroke-dasharray="2,1.6"/>
<path d="M482.5,396.2H598.4V427.3H915.5" stroke="#2a2a2a" stroke-width="1.05" stroke-dasharray="2.8,2.3" fill="none"/>
<ellipse cx="916" cy="441.3" rx="7.4" ry="21" fill="#f2537c" fill-opacity="0.33" stroke="#e8185e" stroke-width="1.1" stroke-dasharray="2,1.6"/>
<path d="M758.5,238.3H912.9V270" stroke="#fa8a2a" stroke-width="1.2" stroke-dasharray="1.8,2.6" fill="none"/>
<circle cx="913" cy="278" r="7.6" fill="#f9a04e" fill-opacity="0.26" stroke="#f7831e" stroke-width="1.1" stroke-dasharray="3,2.2"/>
<g font-size="12.7" font-weight="700" text-anchor="middle">
<text x="801.8" y="218.3" fill="#fb7f16">Total Transactions</text>
<text x="801.8" y="233.3" fill="#fb7f16" font-size="13.3">264k/day</text>
<text x="844.8" y="357" fill="#1866f6">Exchange Tx Dominance</text>
<text x="845" y="372" fill="#1866f6">47.2%</text>
<text x="537.5" y="393.5" fill="#f0145e">Withdrawals = 77.1k</text>
<text x="536.8" y="409" fill="#1aa850">Deposits = 48.1k</text>
</g>
</svg>
<div class="foot">© 2022 Glassnode. All Rights Reserved.</div>
<div class="logo">glassnode</div>
</body></html>
